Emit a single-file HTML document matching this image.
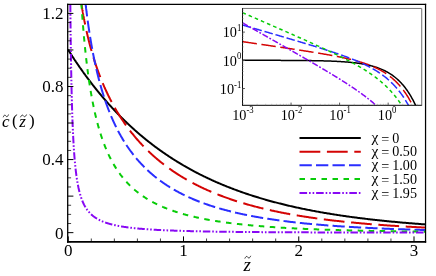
<!DOCTYPE html>
<html><head><meta charset="utf-8"><style>
html,body{margin:0;padding:0;background:#fff;}
body{width:436px;height:276px;overflow:hidden;position:relative;font-family:"Liberation Serif",serif;}
</style></head><body>
<svg width="436" height="276" viewBox="0 0 436 276" style="position:absolute;left:0;top:0;will-change:transform;opacity:0.999">
<defs><clipPath id="cm"><rect x="67.70" y="4.40" width="357.85" height="237.40"/></clipPath>
<clipPath id="ci"><rect x="242.50" y="8.45" width="178.90" height="96.75"/></clipPath></defs>
<rect width="100%" height="100%" fill="#fff"/>
<g clip-path="url(#cm)" fill="none" stroke-width="2.00">
<path d="M68.25,49.95 L68.25,49.95 L68.25,49.95 L68.25,49.95 L68.25,49.95 L68.25,49.95 L68.25,49.95 L68.25,49.96 L68.25,49.96 L68.26,49.96 L68.26,49.96 L68.26,49.97 L68.26,49.97 L68.27,49.98 L68.27,49.98 L68.27,49.99 L68.28,49.99 L68.28,50.00 L68.29,50.01 L68.29,50.02 L68.30,50.03 L68.31,50.04 L68.31,50.05 L68.32,50.06 L68.33,50.07 L68.34,50.09 L68.34,50.10 L68.35,50.12 L68.36,50.13 L68.37,50.15 L68.39,50.17 L68.40,50.18 L68.41,50.20 L68.42,50.22 L68.44,50.24 L68.45,50.27 L68.46,50.29 L68.48,50.31 L68.50,50.34 L68.51,50.36 L68.53,50.39 L68.55,50.42 L68.57,50.45 L68.58,50.48 L68.60,50.51 L68.62,50.54 L68.65,50.58 L68.67,50.61 L68.69,50.65 L68.71,50.68 L68.74,50.72 L68.76,50.76 L68.79,50.80 L68.81,50.84 L68.84,50.88 L68.87,50.93 L68.90,50.97 L68.93,51.02 L68.96,51.07 L68.99,51.11 L69.02,51.16 L69.05,51.22 L69.08,51.27 L69.12,51.32 L69.15,51.38 L69.19,51.43 L69.23,51.49 L69.26,51.55 L69.30,51.61 L69.34,51.67 L69.38,51.73 L69.42,51.80 L69.46,51.86 L69.50,51.93 L69.55,52.00 L69.59,52.07 L69.64,52.14 L69.68,52.21 L69.73,52.28 L69.78,52.36 L69.83,52.43 L69.88,52.51 L69.93,52.59 L69.98,52.67 L70.03,52.75 L70.09,52.84 L70.14,52.92 L70.20,53.01 L70.25,53.10 L70.31,53.19 L70.37,53.28 L70.43,53.37 L70.49,53.46 L70.55,53.56 L70.61,53.65 L70.67,53.75 L70.74,53.85 L70.80,53.95 L70.87,54.06 L70.94,54.16 L71.01,54.27 L71.08,54.37 L71.15,54.48 L71.22,54.59 L71.29,54.71 L71.36,54.82 L71.44,54.93 L71.51,55.05 L71.59,55.17 L71.67,55.29 L71.75,55.41 L71.83,55.53 L71.91,55.66 L71.99,55.78 L72.07,55.91 L72.16,56.04 L72.24,56.17 L72.33,56.31 L72.42,56.44 L72.51,56.58 L72.60,56.71 L72.69,56.85 L72.78,56.99 L72.87,57.14 L72.97,57.28 L73.06,57.42 L73.16,57.57 L73.26,57.72 L73.36,57.87 L73.46,58.02 L73.56,58.18 L73.66,58.33 L73.77,58.49 L73.87,58.65 L73.98,58.81 L74.09,58.97 L74.19,59.13 L74.30,59.30 L74.42,59.47 L74.53,59.64 L74.64,59.81 L74.76,59.98 L74.87,60.15 L74.99,60.33 L75.11,60.50 L75.23,60.68 L75.35,60.86 L75.47,61.04 L75.59,61.23 L75.72,61.41 L75.84,61.60 L75.97,61.79 L76.10,61.98 L76.23,62.17 L76.36,62.37 L76.49,62.56 L76.63,62.76 L76.76,62.96 L76.90,63.16 L77.04,63.36 L77.17,63.56 L77.31,63.77 L77.46,63.98 L77.60,64.18 L77.74,64.39 L77.89,64.61 L78.03,64.82 L78.18,65.04 L78.33,65.25 L78.48,65.47 L78.63,65.69 L78.79,65.91 L78.94,66.14 L79.10,66.36 L79.26,66.59 L79.41,66.82 L79.58,67.05 L79.74,67.28 L79.90,67.51 L80.06,67.75 L80.23,67.99 L80.40,68.23 L80.57,68.47 L80.73,68.71 L80.91,68.95 L81.08,69.20 L81.25,69.44 L81.43,69.69 L81.61,69.94 L81.78,70.19 L81.96,70.45 L82.14,70.70 L82.33,70.96 L82.51,71.21 L82.70,71.47 L82.88,71.74 L83.07,72.00 L83.26,72.26 L83.45,72.53 L83.65,72.80 L83.84,73.06 L84.04,73.34 L84.23,73.61 L84.43,73.88 L84.63,74.16 L84.83,74.43 L85.04,74.71 L85.24,74.99 L85.45,75.27 L85.65,75.56 L85.86,75.84 L86.07,76.13 L86.28,76.41 L86.50,76.70 L86.71,76.99 L86.93,77.29 L87.15,77.58 L87.37,77.87 L87.59,78.17 L87.81,78.47 L88.03,78.77 L88.26,79.07 L88.49,79.37 L88.72,79.68 L88.95,79.98 L89.18,80.29 L89.41,80.60 L89.65,80.91 L89.88,81.22 L90.12,81.53 L90.36,81.84 L90.60,82.16 L90.84,82.47 L91.09,82.79 L91.33,83.11 L91.58,83.43 L91.83,83.75 L92.08,84.08 L92.33,84.40 L92.59,84.73 L92.84,85.06 L93.10,85.38 L93.36,85.71 L93.62,86.05 L93.88,86.38 L94.14,86.71 L94.41,87.05 L94.67,87.38 L94.94,87.72 L95.21,88.06 L95.48,88.40 L95.76,88.74 L96.03,89.08 L96.31,89.43 L96.59,89.77 L96.87,90.12 L97.15,90.47 L97.43,90.82 L97.72,91.17 L98.00,91.52 L98.29,91.87 L98.58,92.22 L98.87,92.58 L99.16,92.93 L99.46,93.29 L99.75,93.65 L100.05,94.01 L100.35,94.37 L100.65,94.73 L100.96,95.09 L101.26,95.45 L101.57,95.82 L101.88,96.18 L102.19,96.55 L102.50,96.92 L102.81,97.29 L103.13,97.66 L103.44,98.03 L103.76,98.40 L104.08,98.77 L104.40,99.14 L104.73,99.52 L105.05,99.89 L105.38,100.27 L105.71,100.65 L106.04,101.03 L106.37,101.40 L106.71,101.78 L107.04,102.17 L107.38,102.55 L107.72,102.93 L108.06,103.31 L108.40,103.70 L108.75,104.08 L109.09,104.47 L109.44,104.85 L109.79,105.24 L110.14,105.63 L110.50,106.02 L110.85,106.41 L111.21,106.80 L111.57,107.19 L111.93,107.58 L112.29,107.98 L112.66,108.37 L113.02,108.76 L113.39,109.16 L113.76,109.55 L114.13,109.95 L114.50,110.35 L114.88,110.74 L115.26,111.14 L115.64,111.54 L116.02,111.94 L116.40,112.34 L116.78,112.74 L117.17,113.14 L117.56,113.54 L117.95,113.95 L118.34,114.35 L118.73,114.75 L119.13,115.15 L119.52,115.56 L119.92,115.96 L120.32,116.37 L120.73,116.77 L121.13,117.18 L121.54,117.59 L121.95,117.99 L122.36,118.40 L122.77,118.81 L123.18,119.22 L123.60,119.63 L124.02,120.03 L124.44,120.44 L124.86,120.85 L125.28,121.26 L125.71,121.67 L126.13,122.08 L126.56,122.50 L126.99,122.91 L127.43,123.32 L127.86,123.73 L128.30,124.14 L128.74,124.55 L129.18,124.97 L129.62,125.38 L130.06,125.79 L130.51,126.20 L130.96,126.62 L131.41,127.03 L131.86,127.44 L132.31,127.86 L132.77,128.27 L133.23,128.69 L133.69,129.10 L134.15,129.51 L134.61,129.93 L135.08,130.34 L135.55,130.76 L136.02,131.17 L136.49,131.59 L136.96,132.00 L137.44,132.41 L137.91,132.83 L138.39,133.24 L138.88,133.66 L139.36,134.07 L139.84,134.49 L140.33,134.90 L140.82,135.31 L141.31,135.73 L141.81,136.14 L142.30,136.56 L142.80,136.97 L143.30,137.38 L143.80,137.80 L144.30,138.21 L144.81,138.62 L145.31,139.04 L145.82,139.45 L146.34,139.86 L146.85,140.27 L147.36,140.69 L147.88,141.10 L148.40,141.51 L148.92,141.92 L149.45,142.33 L149.97,142.74 L150.50,143.15 L151.03,143.56 L151.56,143.97 L152.09,144.38 L152.63,144.79 L153.17,145.20 L153.71,145.61 L154.25,146.02 L154.79,146.43 L155.34,146.84 L155.89,147.24 L156.44,147.65 L156.99,148.06 L157.54,148.46 L158.10,148.87 L158.66,149.27 L159.22,149.68 L159.78,150.08 L160.35,150.48 L160.91,150.89 L161.48,151.29 L162.05,151.69 L162.63,152.09 L163.20,152.49 L163.78,152.89 L164.36,153.29 L164.94,153.69 L165.52,154.09 L166.11,154.49 L166.70,154.89 L167.29,155.29 L167.88,155.68 L168.47,156.08 L169.07,156.47 L169.67,156.87 L170.27,157.26 L170.87,157.65 L171.47,158.05 L172.08,158.44 L172.69,158.83 L173.30,159.22 L173.91,159.61 L174.53,160.00 L175.15,160.39 L175.77,160.77 L176.39,161.16 L177.01,161.55 L177.64,161.93 L178.27,162.32 L178.90,162.70 L179.53,163.08 L180.17,163.47 L180.80,163.85 L181.44,164.23 L182.08,164.61 L182.73,164.99 L183.37,165.36 L184.02,165.74 L184.67,166.12 L185.32,166.49 L185.98,166.87 L186.63,167.24 L187.29,167.61 L187.95,167.99 L188.62,168.36 L189.28,168.73 L189.95,169.10 L190.62,169.46 L191.29,169.83 L191.96,170.20 L192.64,170.56 L193.32,170.93 L194.00,171.29 L194.68,171.65 L195.37,172.02 L196.06,172.38 L196.75,172.74 L197.44,173.09 L198.13,173.45 L198.83,173.81 L199.53,174.16 L200.23,174.52 L200.93,174.87 L201.64,175.23 L202.34,175.58 L203.05,175.93 L203.77,176.28 L204.48,176.62 L205.20,176.97 L205.92,177.32 L206.64,177.66 L207.36,178.01 L208.09,178.35 L208.81,178.69 L209.54,179.03 L210.28,179.37 L211.01,179.71 L211.75,180.05 L212.49,180.39 L213.23,180.72 L213.97,181.05 L214.72,181.39 L215.47,181.72 L216.22,182.05 L216.97,182.38 L217.73,182.71 L218.48,183.04 L219.24,183.36 L220.01,183.69 L220.77,184.01 L221.54,184.33 L222.31,184.65 L223.08,184.97 L223.85,185.29 L224.63,185.61 L225.41,185.93 L226.19,186.24 L226.97,186.56 L227.76,186.87 L228.54,187.18 L229.33,187.49 L230.13,187.80 L230.92,188.11 L231.72,188.42 L232.52,188.72 L233.32,189.03 L234.12,189.33 L234.93,189.63 L235.74,189.93 L236.55,190.23 L237.36,190.53 L238.18,190.83 L239.00,191.12 L239.82,191.42 L240.64,191.71 L241.47,192.00 L242.29,192.30 L243.12,192.58 L243.95,192.87 L244.79,193.16 L245.63,193.45 L246.47,193.73 L247.31,194.01 L248.15,194.30 L249.00,194.58 L249.85,194.86 L250.70,195.13 L251.55,195.41 L252.41,195.69 L253.27,195.96 L254.13,196.23 L254.99,196.51 L255.86,196.78 L256.73,197.05 L257.60,197.31 L258.47,197.58 L259.34,197.85 L260.22,198.11 L261.10,198.37 L261.99,198.63 L262.87,198.89 L263.76,199.15 L264.65,199.41 L265.54,199.67 L266.43,199.92 L267.33,200.18 L268.23,200.43 L269.13,200.68 L270.04,200.93 L270.94,201.18 L271.85,201.43 L272.77,201.67 L273.68,201.92 L274.60,202.16 L275.52,202.40 L276.44,202.64 L277.36,202.88 L278.29,203.12 L279.22,203.36 L280.15,203.59 L281.08,203.83 L282.02,204.06 L282.96,204.29 L283.90,204.52 L284.84,204.75 L285.79,204.98 L286.74,205.21 L287.69,205.43 L288.64,205.66 L289.60,205.88 L290.56,206.10 L291.52,206.32 L292.48,206.54 L293.45,206.76 L294.42,206.98 L295.39,207.19 L296.36,207.41 L297.34,207.62 L298.32,207.83 L299.30,208.04 L300.28,208.25 L301.27,208.46 L302.26,208.67 L303.25,208.87 L304.24,209.07 L305.24,209.28 L306.24,209.48 L307.24,209.68 L308.24,209.88 L309.25,210.08 L310.26,210.27 L311.27,210.47 L312.28,210.66 L313.30,210.86 L314.32,211.05 L315.34,211.24 L316.36,211.43 L317.39,211.62 L318.42,211.80 L319.45,211.99 L320.48,212.17 L321.52,212.36 L322.56,212.54 L323.60,212.72 L324.64,212.90 L325.69,213.08 L326.74,213.26 L327.79,213.43 L328.85,213.61 L329.90,213.78 L330.96,213.95 L332.03,214.13 L333.09,214.30 L334.16,214.46 L335.23,214.63 L336.30,214.80 L337.38,214.97 L338.45,215.13 L339.54,215.29 L340.62,215.46 L341.70,215.62 L342.79,215.78 L343.88,215.94 L344.98,216.09 L346.07,216.25 L347.17,216.41 L348.27,216.56 L349.38,216.71 L350.48,216.87 L351.59,217.02 L352.70,217.17 L353.82,217.32 L354.93,217.46 L356.05,217.61 L357.17,217.76 L358.30,217.90 L359.43,218.04 L360.56,218.19 L361.69,218.33 L362.82,218.47 L363.96,218.61 L365.10,218.75 L366.25,218.88 L367.39,219.02 L368.54,219.16 L369.69,219.29 L370.84,219.42 L372.00,219.55 L373.16,219.69 L374.32,219.82 L375.49,219.94 L376.65,220.07 L377.82,220.20 L378.99,220.33 L380.17,220.45 L381.35,220.57 L382.53,220.70 L383.71,220.82 L384.89,220.94 L386.08,221.06 L387.27,221.18 L388.47,221.30 L389.66,221.42 L390.86,221.53 L392.06,221.65 L393.27,221.76 L394.47,221.87 L395.68,221.99 L396.90,222.10 L398.11,222.21 L399.33,222.32 L400.55,222.43 L401.77,222.54 L403.00,222.64 L404.23,222.75 L405.46,222.85 L406.69,222.96 L407.93,223.06 L409.17,223.16 L410.41,223.27 L411.65,223.37 L412.90,223.47 L414.15,223.57 L415.40,223.66 L416.66,223.76 L417.92,223.86 L419.18,223.95 L420.44,224.05 L421.71,224.14 L422.98,224.24 L424.25,224.33 L425.53,224.42" stroke="#000000"/>
<path d="M81.50,4.40 L81.50,4.40 L81.50,4.40 L81.50,4.40 L81.50,4.41 L81.50,4.41 L81.50,4.41 L81.50,4.42 L81.50,4.43 L81.50,4.44 L81.51,4.45 L81.51,4.47 L81.51,4.48 L81.51,4.50 L81.52,4.52 L81.52,4.55 L81.52,4.57 L81.53,4.60 L81.53,4.63 L81.54,4.66 L81.55,4.70 L81.55,4.74 L81.56,4.78 L81.56,4.82 L81.57,4.87 L81.58,4.92 L81.59,4.97 L81.60,5.03 L81.61,5.09 L81.62,5.15 L81.63,5.22 L81.64,5.29 L81.65,5.36 L81.66,5.44 L81.68,5.52 L81.69,5.60 L81.70,5.69 L81.72,5.78 L81.73,5.87 L81.75,5.97 L81.77,6.07 L81.78,6.18 L81.80,6.28 L81.82,6.40 L81.84,6.51 L81.86,6.63 L81.88,6.76 L81.90,6.89 L81.92,7.02 L81.94,7.16 L81.97,7.30 L81.99,7.44 L82.01,7.59 L82.04,7.74 L82.07,7.90 L82.09,8.06 L82.12,8.22 L82.15,8.39 L82.18,8.56 L82.21,8.74 L82.24,8.92 L82.27,9.11 L82.30,9.30 L82.33,9.49 L82.37,9.69 L82.40,9.89 L82.44,10.10 L82.47,10.31 L82.51,10.52 L82.55,10.74 L82.59,10.96 L82.62,11.19 L82.66,11.42 L82.71,11.66 L82.75,11.90 L82.79,12.14 L82.83,12.39 L82.88,12.64 L82.92,12.90 L82.97,13.16 L83.02,13.42 L83.06,13.69 L83.11,13.96 L83.16,14.24 L83.21,14.52 L83.27,14.80 L83.32,15.09 L83.37,15.39 L83.43,15.68 L83.48,15.98 L83.54,16.29 L83.59,16.60 L83.65,16.91 L83.71,17.23 L83.77,17.55 L83.83,17.87 L83.89,18.20 L83.96,18.53 L84.02,18.87 L84.09,19.21 L84.15,19.55 L84.22,19.89 L84.29,20.25 L84.35,20.60 L84.42,20.96 L84.50,21.32 L84.57,21.68 L84.64,22.05 L84.71,22.42 L84.79,22.80 L84.87,23.18 L84.94,23.56 L85.02,23.94 L85.10,24.33 L85.18,24.73 L85.26,25.12 L85.34,25.52 L85.43,25.92 L85.51,26.33 L85.60,26.73 L85.68,27.14 L85.77,27.56 L85.86,27.98 L85.95,28.40 L86.04,28.82 L86.13,29.24 L86.23,29.67 L86.32,30.10 L86.42,30.54 L86.51,30.98 L86.61,31.42 L86.71,31.86 L86.81,32.30 L86.91,32.75 L87.01,33.20 L87.12,33.65 L87.22,34.11 L87.33,34.57 L87.43,35.03 L87.54,35.49 L87.65,35.95 L87.76,36.42 L87.87,36.89 L87.99,37.36 L88.10,37.84 L88.22,38.31 L88.33,38.79 L88.45,39.27 L88.57,39.75 L88.69,40.24 L88.81,40.73 L88.93,41.21 L89.06,41.70 L89.18,42.20 L89.31,42.69 L89.43,43.19 L89.56,43.68 L89.69,44.18 L89.82,44.68 L89.96,45.19 L90.09,45.69 L90.23,46.20 L90.36,46.70 L90.50,47.21 L90.64,47.72 L90.78,48.24 L90.92,48.75 L91.06,49.26 L91.21,49.78 L91.35,50.30 L91.50,50.82 L91.64,51.34 L91.79,51.86 L91.94,52.38 L92.10,52.90 L92.25,53.43 L92.40,53.96 L92.56,54.48 L92.72,55.01 L92.87,55.54 L93.03,56.07 L93.19,56.60 L93.36,57.13 L93.52,57.67 L93.68,58.20 L93.85,58.74 L94.02,59.27 L94.19,59.81 L94.36,60.35 L94.53,60.89 L94.70,61.42 L94.88,61.96 L95.05,62.50 L95.23,63.05 L95.41,63.59 L95.59,64.13 L95.77,64.67 L95.95,65.22 L96.14,65.76 L96.32,66.30 L96.51,66.85 L96.70,67.39 L96.89,67.94 L97.08,68.49 L97.27,69.03 L97.46,69.58 L97.66,70.13 L97.86,70.68 L98.06,71.22 L98.26,71.77 L98.46,72.32 L98.66,72.87 L98.86,73.42 L99.07,73.97 L99.28,74.52 L99.48,75.07 L99.69,75.62 L99.91,76.17 L100.12,76.72 L100.33,77.27 L100.55,77.82 L100.77,78.37 L100.98,78.92 L101.20,79.47 L101.43,80.02 L101.65,80.57 L101.87,81.12 L102.10,81.67 L102.33,82.22 L102.56,82.77 L102.79,83.32 L103.02,83.87 L103.25,84.42 L103.49,84.97 L103.72,85.52 L103.96,86.07 L104.20,86.62 L104.44,87.17 L104.69,87.71 L104.93,88.26 L105.18,88.81 L105.42,89.36 L105.67,89.91 L105.92,90.45 L106.18,91.00 L106.43,91.55 L106.69,92.09 L106.94,92.64 L107.20,93.19 L107.46,93.73 L107.72,94.28 L107.98,94.82 L108.25,95.36 L108.52,95.91 L108.78,96.45 L109.05,96.99 L109.32,97.54 L109.60,98.08 L109.87,98.62 L110.15,99.16 L110.42,99.70 L110.70,100.24 L110.98,100.78 L111.26,101.32 L111.55,101.86 L111.83,102.39 L112.12,102.93 L112.41,103.47 L112.70,104.00 L112.99,104.54 L113.29,105.07 L113.58,105.61 L113.88,106.14 L114.18,106.67 L114.48,107.20 L114.78,107.74 L115.08,108.27 L115.39,108.80 L115.69,109.33 L116.00,109.85 L116.31,110.38 L116.62,110.91 L116.94,111.44 L117.25,111.96 L117.57,112.49 L117.89,113.01 L118.21,113.53 L118.53,114.06 L118.85,114.58 L119.18,115.10 L119.50,115.62 L119.83,116.14 L120.16,116.66 L120.49,117.17 L120.83,117.69 L121.16,118.21 L121.50,118.72 L121.84,119.24 L122.18,119.75 L122.52,120.26 L122.86,120.77 L123.21,121.28 L123.56,121.79 L123.91,122.30 L124.26,122.81 L124.61,123.32 L124.96,123.82 L125.32,124.33 L125.68,124.83 L126.04,125.34 L126.40,125.84 L126.76,126.34 L127.13,126.84 L127.49,127.34 L127.86,127.84 L128.23,128.34 L128.60,128.83 L128.98,129.33 L129.35,129.82 L129.73,130.32 L130.11,130.81 L130.49,131.30 L130.87,131.79 L131.25,132.28 L131.64,132.77 L132.03,133.26 L132.42,133.74 L132.81,134.23 L133.20,134.71 L133.60,135.19 L133.99,135.68 L134.39,136.16 L134.79,136.64 L135.20,137.11 L135.60,137.59 L136.01,138.07 L136.41,138.54 L136.82,139.02 L137.23,139.49 L137.65,139.96 L138.06,140.43 L138.48,140.90 L138.90,141.37 L139.32,141.84 L139.74,142.30 L140.16,142.77 L140.59,143.23 L141.02,143.70 L141.45,144.16 L141.88,144.62 L142.31,145.08 L142.75,145.53 L143.19,145.99 L143.63,146.45 L144.07,146.90 L144.51,147.35 L144.95,147.81 L145.40,148.26 L145.85,148.71 L146.30,149.15 L146.75,149.60 L147.21,150.05 L147.66,150.49 L148.12,150.94 L148.58,151.38 L149.04,151.82 L149.50,152.26 L149.97,152.70 L150.44,153.13 L150.91,153.57 L151.38,154.00 L151.85,154.44 L152.33,154.87 L152.80,155.30 L153.28,155.73 L153.76,156.16 L154.24,156.58 L154.73,157.01 L155.22,157.43 L155.70,157.86 L156.20,158.28 L156.69,158.70 L157.18,159.12 L157.68,159.54 L158.18,159.95 L158.68,160.37 L159.18,160.78 L159.68,161.19 L160.19,161.60 L160.70,162.01 L161.21,162.42 L161.72,162.83 L162.23,163.24 L162.75,163.64 L163.27,164.04 L163.79,164.45 L164.31,164.85 L164.83,165.24 L165.36,165.64 L165.89,166.04 L166.42,166.43 L166.95,166.83 L167.48,167.22 L168.02,167.61 L168.55,168.00 L169.09,168.39 L169.64,168.78 L170.18,169.16 L170.72,169.55 L171.27,169.93 L171.82,170.31 L172.37,170.69 L172.93,171.07 L173.48,171.45 L174.04,171.82 L174.60,172.20 L175.16,172.57 L175.73,172.94 L176.29,173.31 L176.86,173.68 L177.43,174.05 L178.00,174.42 L178.58,174.78 L179.15,175.14 L179.73,175.51 L180.31,175.87 L180.89,176.23 L181.48,176.58 L182.06,176.94 L182.65,177.30 L183.24,177.65 L183.84,178.00 L184.43,178.35 L185.03,178.70 L185.63,179.05 L186.23,179.40 L186.83,179.74 L187.44,180.09 L188.04,180.43 L188.65,180.77 L189.26,181.11 L189.88,181.45 L190.49,181.79 L191.11,182.12 L191.73,182.45 L192.35,182.79 L192.97,183.12 L193.60,183.45 L194.23,183.78 L194.86,184.10 L195.49,184.43 L196.13,184.75 L196.76,185.08 L197.40,185.40 L198.04,185.72 L198.68,186.04 L199.33,186.35 L199.98,186.67 L200.62,186.98 L201.28,187.30 L201.93,187.61 L202.59,187.92 L203.24,188.23 L203.90,188.54 L204.56,188.84 L205.23,189.15 L205.90,189.45 L206.56,189.75 L207.23,190.05 L207.91,190.35 L208.58,190.65 L209.26,190.94 L209.94,191.24 L210.62,191.53 L211.30,191.83 L211.99,192.12 L212.68,192.41 L213.37,192.69 L214.06,192.98 L214.75,193.26 L215.45,193.55 L216.15,193.83 L216.85,194.11 L217.55,194.39 L218.26,194.67 L218.97,194.95 L219.68,195.22 L220.39,195.50 L221.10,195.77 L221.82,196.04 L222.54,196.31 L223.26,196.58 L223.98,196.85 L224.70,197.11 L225.43,197.38 L226.16,197.64 L226.89,197.90 L227.63,198.16 L228.36,198.42 L229.10,198.68 L229.84,198.93 L230.59,199.19 L231.33,199.44 L232.08,199.70 L232.83,199.95 L233.58,200.20 L234.33,200.44 L235.09,200.69 L235.85,200.94 L236.61,201.18 L237.37,201.42 L238.14,201.67 L238.90,201.91 L239.67,202.14 L240.45,202.38 L241.22,202.62 L242.00,202.85 L242.78,203.09 L243.56,203.32 L244.34,203.55 L245.13,203.78 L245.91,204.01 L246.70,204.24 L247.50,204.46 L248.29,204.69 L249.09,204.91 L249.89,205.13 L250.69,205.35 L251.49,205.57 L252.30,205.79 L253.11,206.01 L253.92,206.22 L254.73,206.44 L255.54,206.65 L256.36,206.86 L257.18,207.07 L258.00,207.28 L258.83,207.49 L259.65,207.70 L260.48,207.90 L261.32,208.11 L262.15,208.31 L262.98,208.51 L263.82,208.71 L264.66,208.91 L265.51,209.11 L266.35,209.31 L267.20,209.50 L268.05,209.70 L268.90,209.89 L269.76,210.08 L270.61,210.27 L271.47,210.46 L272.33,210.65 L273.20,210.84 L274.06,211.03 L274.93,211.21 L275.80,211.39 L276.68,211.58 L277.55,211.76 L278.43,211.94 L279.31,212.12 L280.19,212.30 L281.08,212.47 L281.97,212.65 L282.86,212.82 L283.75,213.00 L284.64,213.17 L285.54,213.34 L286.44,213.51 L287.34,213.68 L288.24,213.85 L289.15,214.01 L290.06,214.18 L290.97,214.34 L291.88,214.50 L292.80,214.67 L293.72,214.83 L294.64,214.99 L295.56,215.15 L296.49,215.30 L297.42,215.46 L298.35,215.62 L299.28,215.77 L300.21,215.92 L301.15,216.08 L302.09,216.23 L303.03,216.38 L303.98,216.53 L304.92,216.67 L305.87,216.82 L306.83,216.97 L307.78,217.11 L308.74,217.26 L309.70,217.40 L310.66,217.54 L311.62,217.68 L312.59,217.82 L313.56,217.96 L314.53,218.10 L315.50,218.23 L316.48,218.37 L317.46,218.50 L318.44,218.64 L319.42,218.77 L320.41,218.90 L321.40,219.03 L322.39,219.16 L323.38,219.29 L324.38,219.42 L325.38,219.55 L326.38,219.67 L327.38,219.80 L328.39,219.92 L329.39,220.04 L330.40,220.17 L331.42,220.29 L332.43,220.41 L333.45,220.53 L334.47,220.65 L335.49,220.76 L336.52,220.88 L337.55,220.99 L338.58,221.11 L339.61,221.22 L340.65,221.34 L341.68,221.45 L342.72,221.56 L343.77,221.67 L344.81,221.78 L345.86,221.89 L346.91,222.00 L347.96,222.10 L349.02,222.21 L350.08,222.31 L351.14,222.42 L352.20,222.52 L353.26,222.62 L354.33,222.73 L355.40,222.83 L356.48,222.93 L357.55,223.03 L358.63,223.12 L359.71,223.22 L360.79,223.32 L361.88,223.41 L362.97,223.51 L364.06,223.60 L365.15,223.70 L366.24,223.79 L367.34,223.88 L368.44,223.97 L369.55,224.06 L370.65,224.15 L371.76,224.24 L372.87,224.33 L373.99,224.42 L375.10,224.51 L376.22,224.59 L377.34,224.68 L378.46,224.76 L379.59,224.85 L380.72,224.93 L381.85,225.01 L382.98,225.09 L384.12,225.17 L385.26,225.25 L386.40,225.33 L387.55,225.41 L388.69,225.49 L389.84,225.57 L390.99,225.64 L392.15,225.72 L393.30,225.80 L394.46,225.87 L395.63,225.94 L396.79,226.02 L397.96,226.09 L399.13,226.16 L400.30,226.23 L401.48,226.30 L402.65,226.37 L403.83,226.44 L405.02,226.51 L406.20,226.58 L407.39,226.65 L408.58,226.71 L409.77,226.78 L410.97,226.85 L412.17,226.91 L413.37,226.98 L414.57,227.04 L415.78,227.10 L416.99,227.17 L418.20,227.23 L419.41,227.29 L420.63,227.35 L421.85,227.41 L423.07,227.47 L424.30,227.53 L425.53,227.59" stroke="#d40404" stroke-dasharray="20.8 6.6" stroke-dashoffset="0.37"/>
<path d="M85.63,4.40 L85.63,4.40 L85.63,4.40 L85.63,4.40 L85.63,4.41 L85.63,4.41 L85.64,4.42 L85.64,4.43 L85.64,4.44 L85.64,4.45 L85.64,4.47 L85.64,4.49 L85.65,4.51 L85.65,4.54 L85.65,4.56 L85.66,4.60 L85.66,4.63 L85.66,4.67 L85.67,4.71 L85.67,4.75 L85.68,4.80 L85.69,4.85 L85.69,4.91 L85.70,4.97 L85.71,5.03 L85.72,5.10 L85.72,5.17 L85.73,5.25 L85.74,5.33 L85.75,5.41 L85.76,5.50 L85.77,5.59 L85.79,5.69 L85.80,5.79 L85.81,5.90 L85.82,6.01 L85.84,6.13 L85.85,6.25 L85.87,6.38 L85.88,6.51 L85.90,6.64 L85.92,6.78 L85.93,6.93 L85.95,7.08 L85.97,7.24 L85.99,7.40 L86.01,7.57 L86.03,7.74 L86.05,7.92 L86.07,8.10 L86.10,8.29 L86.12,8.48 L86.14,8.68 L86.17,8.88 L86.20,9.09 L86.22,9.31 L86.25,9.53 L86.28,9.76 L86.31,9.99 L86.33,10.22 L86.36,10.47 L86.40,10.72 L86.43,10.97 L86.46,11.23 L86.49,11.49 L86.53,11.76 L86.56,12.04 L86.60,12.32 L86.63,12.61 L86.67,12.90 L86.71,13.20 L86.75,13.51 L86.79,13.82 L86.83,14.13 L86.87,14.45 L86.91,14.78 L86.95,15.11 L87.00,15.45 L87.04,15.79 L87.09,16.14 L87.13,16.49 L87.18,16.85 L87.23,17.21 L87.28,17.58 L87.33,17.96 L87.38,18.34 L87.43,18.73 L87.48,19.12 L87.54,19.51 L87.59,19.92 L87.65,20.32 L87.70,20.73 L87.76,21.15 L87.82,21.57 L87.88,22.00 L87.94,22.43 L88.00,22.87 L88.06,23.31 L88.13,23.76 L88.19,24.21 L88.26,24.67 L88.32,25.13 L88.39,25.59 L88.46,26.07 L88.53,26.54 L88.60,27.02 L88.67,27.51 L88.74,27.99 L88.81,28.49 L88.89,28.99 L88.96,29.49 L89.04,29.99 L89.11,30.50 L89.19,31.02 L89.27,31.54 L89.35,32.06 L89.43,32.59 L89.52,33.12 L89.60,33.65 L89.68,34.19 L89.77,34.73 L89.86,35.28 L89.94,35.83 L90.03,36.38 L90.12,36.94 L90.21,37.50 L90.31,38.06 L90.40,38.63 L90.49,39.20 L90.59,39.77 L90.69,40.35 L90.78,40.93 L90.88,41.51 L90.98,42.10 L91.08,42.69 L91.19,43.28 L91.29,43.88 L91.39,44.47 L91.50,45.07 L91.61,45.68 L91.71,46.28 L91.82,46.89 L91.93,47.50 L92.04,48.11 L92.16,48.73 L92.27,49.35 L92.39,49.97 L92.50,50.59 L92.62,51.21 L92.74,51.84 L92.86,52.47 L92.98,53.10 L93.10,53.73 L93.22,54.36 L93.35,55.00 L93.48,55.64 L93.60,56.27 L93.73,56.91 L93.86,57.56 L93.99,58.20 L94.12,58.85 L94.26,59.49 L94.39,60.14 L94.53,60.79 L94.66,61.44 L94.80,62.09 L94.94,62.74 L95.08,63.39 L95.22,64.05 L95.37,64.70 L95.51,65.36 L95.66,66.02 L95.81,66.68 L95.95,67.33 L96.10,67.99 L96.26,68.65 L96.41,69.31 L96.56,69.97 L96.72,70.64 L96.87,71.30 L97.03,71.96 L97.19,72.62 L97.35,73.29 L97.51,73.95 L97.67,74.61 L97.84,75.28 L98.00,75.94 L98.17,76.61 L98.34,77.27 L98.51,77.93 L98.68,78.60 L98.85,79.26 L99.03,79.92 L99.20,80.59 L99.38,81.25 L99.55,81.92 L99.73,82.58 L99.91,83.24 L100.10,83.90 L100.28,84.57 L100.46,85.23 L100.65,85.89 L100.84,86.55 L101.03,87.21 L101.22,87.87 L101.41,88.53 L101.60,89.19 L101.80,89.84 L101.99,90.50 L102.19,91.16 L102.39,91.81 L102.59,92.47 L102.79,93.12 L102.99,93.77 L103.20,94.43 L103.40,95.08 L103.61,95.73 L103.82,96.38 L104.03,97.03 L104.24,97.67 L104.45,98.32 L104.67,98.97 L104.89,99.61 L105.10,100.25 L105.32,100.90 L105.54,101.54 L105.76,102.18 L105.99,102.82 L106.21,103.45 L106.44,104.09 L106.67,104.72 L106.90,105.36 L107.13,105.99 L107.36,106.62 L107.59,107.25 L107.83,107.88 L108.07,108.51 L108.30,109.13 L108.54,109.76 L108.79,110.38 L109.03,111.00 L109.27,111.62 L109.52,112.24 L109.77,112.86 L110.02,113.47 L110.27,114.09 L110.52,114.70 L110.77,115.31 L111.03,115.92 L111.28,116.53 L111.54,117.13 L111.80,117.74 L112.06,118.34 L112.33,118.94 L112.59,119.54 L112.86,120.14 L113.12,120.74 L113.39,121.33 L113.66,121.92 L113.94,122.52 L114.21,123.10 L114.49,123.69 L114.76,124.28 L115.04,124.86 L115.32,125.45 L115.61,126.03 L115.89,126.61 L116.17,127.18 L116.46,127.76 L116.75,128.33 L117.04,128.90 L117.33,129.47 L117.62,130.04 L117.92,130.61 L118.21,131.17 L118.51,131.74 L118.81,132.30 L119.11,132.86 L119.42,133.41 L119.72,133.97 L120.03,134.52 L120.34,135.07 L120.65,135.62 L120.96,136.17 L121.27,136.72 L121.58,137.26 L121.90,137.80 L122.22,138.34 L122.54,138.88 L122.86,139.42 L123.18,139.95 L123.51,140.48 L123.83,141.01 L124.16,141.54 L124.49,142.07 L124.82,142.59 L125.15,143.12 L125.49,143.64 L125.83,144.16 L126.16,144.67 L126.50,145.19 L126.84,145.70 L127.19,146.21 L127.53,146.72 L127.88,147.23 L128.23,147.74 L128.58,148.24 L128.93,148.74 L129.28,149.24 L129.64,149.74 L129.99,150.23 L130.35,150.73 L130.71,151.22 L131.08,151.71 L131.44,152.20 L131.80,152.68 L132.17,153.17 L132.54,153.65 L132.91,154.13 L133.28,154.61 L133.66,155.08 L134.03,155.56 L134.41,156.03 L134.79,156.50 L135.17,156.97 L135.56,157.43 L135.94,157.90 L136.33,158.36 L136.72,158.82 L137.11,159.28 L137.50,159.73 L137.89,160.19 L138.29,160.64 L138.69,161.09 L139.09,161.54 L139.49,161.99 L139.89,162.43 L140.29,162.87 L140.70,163.31 L141.11,163.75 L141.52,164.19 L141.93,164.63 L142.34,165.06 L142.76,165.49 L143.18,165.92 L143.60,166.35 L144.02,166.77 L144.44,167.20 L144.86,167.62 L145.29,168.04 L145.72,168.46 L146.15,168.87 L146.58,169.29 L147.01,169.70 L147.45,170.11 L147.89,170.52 L148.33,170.92 L148.77,171.33 L149.21,171.73 L149.66,172.13 L150.10,172.53 L150.55,172.93 L151.00,173.32 L151.45,173.71 L151.91,174.11 L152.36,174.50 L152.82,174.88 L153.28,175.27 L153.74,175.65 L154.21,176.04 L154.67,176.42 L155.14,176.79 L155.61,177.17 L156.08,177.55 L156.55,177.92 L157.03,178.29 L157.51,178.66 L157.99,179.03 L158.47,179.39 L158.95,179.76 L159.43,180.12 L159.92,180.48 L160.41,180.84 L160.90,181.19 L161.39,181.55 L161.88,181.90 L162.38,182.25 L162.88,182.60 L163.38,182.95 L163.88,183.30 L164.38,183.64 L164.89,183.98 L165.40,184.32 L165.91,184.66 L166.42,185.00 L166.93,185.34 L167.45,185.67 L167.97,186.00 L168.49,186.33 L169.01,186.66 L169.53,186.99 L170.06,187.31 L170.58,187.63 L171.11,187.96 L171.64,188.28 L172.18,188.59 L172.71,188.91 L173.25,189.23 L173.79,189.54 L174.33,189.85 L174.87,190.16 L175.42,190.47 L175.96,190.78 L176.51,191.08 L177.06,191.38 L177.62,191.69 L178.17,191.99 L178.73,192.28 L179.29,192.58 L179.85,192.88 L180.41,193.17 L180.98,193.46 L181.55,193.75 L182.12,194.04 L182.69,194.33 L183.26,194.61 L183.84,194.89 L184.41,195.18 L184.99,195.46 L185.57,195.74 L186.16,196.01 L186.74,196.29 L187.33,196.56 L187.92,196.84 L188.51,197.11 L189.10,197.38 L189.70,197.65 L190.30,197.91 L190.90,198.18 L191.50,198.44 L192.10,198.70 L192.71,198.96 L193.32,199.22 L193.93,199.48 L194.54,199.73 L195.15,199.99 L195.77,200.24 L196.39,200.49 L197.01,200.74 L197.63,200.99 L198.26,201.24 L198.88,201.48 L199.51,201.73 L200.14,201.97 L200.78,202.21 L201.41,202.45 L202.05,202.69 L202.69,202.92 L203.33,203.16 L203.97,203.39 L204.62,203.63 L205.27,203.86 L205.92,204.09 L206.57,204.31 L207.22,204.54 L207.88,204.77 L208.54,204.99 L209.20,205.21 L209.86,205.43 L210.52,205.65 L211.19,205.87 L211.86,206.09 L212.53,206.31 L213.20,206.52 L213.88,206.73 L214.56,206.94 L215.24,207.15 L215.92,207.36 L216.60,207.57 L217.29,207.78 L217.98,207.98 L218.67,208.19 L219.36,208.39 L220.05,208.59 L220.75,208.79 L221.45,208.99 L222.15,209.18 L222.85,209.38 L223.56,209.58 L224.27,209.77 L224.98,209.96 L225.69,210.15 L226.40,210.34 L227.12,210.53 L227.84,210.72 L228.56,210.90 L229.28,211.09 L230.01,211.27 L230.73,211.45 L231.46,211.63 L232.20,211.81 L232.93,211.99 L233.67,212.17 L234.40,212.34 L235.14,212.52 L235.89,212.69 L236.63,212.87 L237.38,213.04 L238.13,213.21 L238.88,213.38 L239.63,213.54 L240.39,213.71 L241.15,213.88 L241.91,214.04 L242.67,214.20 L243.44,214.37 L244.20,214.53 L244.97,214.69 L245.74,214.84 L246.52,215.00 L247.29,215.16 L248.07,215.31 L248.85,215.47 L249.64,215.62 L250.42,215.77 L251.21,215.92 L252.00,216.07 L252.79,216.22 L253.58,216.37 L254.38,216.52 L255.18,216.66 L255.98,216.81 L256.78,216.95 L257.59,217.09 L258.40,217.24 L259.21,217.38 L260.02,217.52 L260.83,217.65 L261.65,217.79 L262.47,217.93 L263.29,218.06 L264.11,218.20 L264.94,218.33 L265.77,218.46 L266.60,218.59 L267.43,218.73 L268.27,218.85 L269.10,218.98 L269.94,219.11 L270.78,219.24 L271.63,219.36 L272.48,219.49 L273.32,219.61 L274.18,219.73 L275.03,219.86 L275.88,219.98 L276.74,220.10 L277.60,220.22 L278.47,220.33 L279.33,220.45 L280.20,220.57 L281.07,220.68 L281.94,220.80 L282.81,220.91 L283.69,221.02 L284.57,221.13 L285.45,221.25 L286.34,221.36 L287.22,221.46 L288.11,221.57 L289.00,221.68 L289.89,221.79 L290.79,221.89 L291.69,222.00 L292.59,222.10 L293.49,222.21 L294.40,222.31 L295.30,222.41 L296.21,222.51 L297.12,222.61 L298.04,222.71 L298.96,222.81 L299.87,222.91 L300.80,223.00 L301.72,223.10 L302.65,223.19 L303.57,223.29 L304.51,223.38 L305.44,223.47 L306.37,223.57 L307.31,223.66 L308.25,223.75 L309.20,223.84 L310.14,223.93 L311.09,224.02 L312.04,224.10 L312.99,224.19 L313.95,224.28 L314.90,224.36 L315.86,224.45 L316.83,224.53 L317.79,224.61 L318.76,224.70 L319.73,224.78 L320.70,224.86 L321.67,224.94 L322.65,225.02 L323.63,225.10 L324.61,225.18 L325.59,225.25 L326.58,225.33 L327.57,225.41 L328.56,225.48 L329.55,225.56 L330.55,225.63 L331.55,225.71 L332.55,225.78 L333.55,225.85 L334.56,225.92 L335.57,225.99 L336.58,226.07 L337.59,226.14 L338.60,226.20 L339.62,226.27 L340.64,226.34 L341.67,226.41 L342.69,226.48 L343.72,226.54 L344.75,226.61 L345.78,226.67 L346.82,226.74 L347.86,226.80 L348.90,226.86 L349.94,226.93 L350.98,226.99 L352.03,227.05 L353.08,227.11 L354.13,227.17 L355.19,227.23 L356.25,227.29 L357.31,227.35 L358.37,227.41 L359.43,227.47 L360.50,227.52 L361.57,227.58 L362.64,227.64 L363.72,227.69 L364.80,227.75 L365.88,227.80 L366.96,227.86 L368.04,227.91 L369.13,227.96 L370.22,228.01 L371.31,228.07 L372.41,228.12 L373.50,228.17 L374.60,228.22 L375.71,228.27 L376.81,228.32 L377.92,228.37 L379.03,228.42 L380.14,228.47 L381.26,228.51 L382.38,228.56 L383.50,228.61 L384.62,228.65 L385.74,228.70 L386.87,228.74 L388.00,228.79 L389.13,228.83 L390.27,228.88 L391.41,228.92 L392.55,228.96 L393.69,229.01 L394.84,229.05 L395.99,229.09 L397.14,229.13 L398.29,229.17 L399.45,229.22 L400.60,229.26 L401.76,229.30 L402.93,229.33 L404.09,229.37 L405.26,229.41 L406.43,229.45 L407.61,229.49 L408.78,229.53 L409.96,229.56 L411.14,229.60 L412.33,229.64 L413.52,229.67 L414.71,229.71 L415.90,229.74 L417.09,229.78 L418.29,229.81 L419.49,229.85 L420.69,229.88 L421.90,229.91 L423.10,229.95 L424.31,229.98 L425.53,230.01" stroke="#2a2eff" stroke-dasharray="12.24 4.175" stroke-dashoffset="0.05"/>
<path d="M81.45,4.40 L81.45,4.40 L81.45,4.40 L81.45,4.41 L81.45,4.41 L81.45,4.42 L81.45,4.43 L81.45,4.45 L81.46,4.47 L81.46,4.50 L81.46,4.53 L81.46,4.56 L81.46,4.60 L81.47,4.64 L81.47,4.69 L81.47,4.75 L81.48,4.81 L81.48,4.87 L81.49,4.94 L81.49,5.02 L81.50,5.11 L81.50,5.20 L81.51,5.30 L81.52,5.40 L81.53,5.51 L81.53,5.63 L81.54,5.76 L81.55,5.89 L81.56,6.03 L81.57,6.18 L81.58,6.34 L81.59,6.50 L81.60,6.68 L81.62,6.86 L81.63,7.04 L81.64,7.24 L81.66,7.44 L81.67,7.66 L81.69,7.88 L81.70,8.11 L81.72,8.35 L81.74,8.59 L81.75,8.85 L81.77,9.11 L81.79,9.38 L81.81,9.67 L81.83,9.96 L81.85,10.25 L81.87,10.56 L81.90,10.88 L81.92,11.20 L81.94,11.54 L81.97,11.88 L81.99,12.24 L82.02,12.60 L82.05,12.97 L82.07,13.35 L82.10,13.73 L82.13,14.13 L82.16,14.54 L82.19,14.95 L82.22,15.38 L82.25,15.81 L82.29,16.25 L82.32,16.70 L82.35,17.16 L82.39,17.63 L82.43,18.10 L82.46,18.59 L82.50,19.08 L82.54,19.59 L82.58,20.10 L82.62,20.62 L82.66,21.14 L82.70,21.68 L82.74,22.22 L82.79,22.77 L82.83,23.33 L82.88,23.90 L82.92,24.48 L82.97,25.06 L83.02,25.65 L83.07,26.25 L83.12,26.86 L83.17,27.47 L83.22,28.10 L83.27,28.72 L83.32,29.36 L83.38,30.00 L83.43,30.65 L83.49,31.31 L83.55,31.97 L83.60,32.64 L83.66,33.32 L83.72,34.00 L83.78,34.69 L83.85,35.39 L83.91,36.09 L83.97,36.80 L84.04,37.51 L84.10,38.23 L84.17,38.96 L84.24,39.69 L84.31,40.42 L84.38,41.16 L84.45,41.91 L84.52,42.66 L84.59,43.42 L84.67,44.18 L84.74,44.94 L84.82,45.71 L84.90,46.49 L84.97,47.27 L85.05,48.05 L85.13,48.83 L85.21,49.62 L85.30,50.42 L85.38,51.22 L85.46,52.02 L85.55,52.82 L85.64,53.63 L85.72,54.44 L85.81,55.25 L85.90,56.07 L85.99,56.89 L86.09,57.71 L86.18,58.53 L86.27,59.36 L86.37,60.19 L86.47,61.02 L86.56,61.85 L86.66,62.69 L86.76,63.52 L86.86,64.36 L86.97,65.20 L87.07,66.04 L87.17,66.88 L87.28,67.73 L87.39,68.57 L87.50,69.42 L87.61,70.26 L87.72,71.11 L87.83,71.96 L87.94,72.80 L88.05,73.65 L88.17,74.50 L88.29,75.35 L88.40,76.20 L88.52,77.05 L88.64,77.90 L88.76,78.75 L88.89,79.59 L89.01,80.44 L89.14,81.29 L89.26,82.14 L89.39,82.98 L89.52,83.83 L89.65,84.67 L89.78,85.52 L89.91,86.36 L90.04,87.20 L90.18,88.05 L90.32,88.89 L90.45,89.72 L90.59,90.56 L90.73,91.40 L90.87,92.23 L91.02,93.06 L91.16,93.89 L91.30,94.72 L91.45,95.55 L91.60,96.38 L91.75,97.20 L91.90,98.02 L92.05,98.84 L92.20,99.66 L92.36,100.48 L92.51,101.29 L92.67,102.10 L92.83,102.91 L92.99,103.72 L93.15,104.52 L93.31,105.32 L93.47,106.12 L93.64,106.92 L93.81,107.72 L93.97,108.51 L94.14,109.30 L94.31,110.08 L94.48,110.87 L94.66,111.65 L94.83,112.43 L95.01,113.20 L95.18,113.97 L95.36,114.74 L95.54,115.51 L95.72,116.27 L95.91,117.03 L96.09,117.79 L96.28,118.55 L96.46,119.30 L96.65,120.05 L96.84,120.79 L97.03,121.54 L97.23,122.27 L97.42,123.01 L97.62,123.74 L97.81,124.47 L98.01,125.20 L98.21,125.92 L98.41,126.64 L98.61,127.36 L98.82,128.07 L99.02,128.78 L99.23,129.49 L99.44,130.19 L99.65,130.89 L99.86,131.59 L100.07,132.28 L100.29,132.97 L100.50,133.65 L100.72,134.34 L100.94,135.02 L101.16,135.69 L101.38,136.36 L101.60,137.03 L101.83,137.70 L102.06,138.36 L102.28,139.02 L102.51,139.67 L102.74,140.33 L102.97,140.97 L103.21,141.62 L103.44,142.26 L103.68,142.90 L103.92,143.53 L104.16,144.16 L104.40,144.79 L104.64,145.42 L104.89,146.04 L105.13,146.65 L105.38,147.27 L105.63,147.88 L105.88,148.48 L106.13,149.09 L106.39,149.69 L106.64,150.28 L106.90,150.88 L107.16,151.47 L107.42,152.05 L107.68,152.64 L107.94,153.22 L108.21,153.79 L108.47,154.37 L108.74,154.93 L109.01,155.50 L109.28,156.06 L109.55,156.62 L109.83,157.18 L110.10,157.73 L110.38,158.28 L110.66,158.83 L110.94,159.37 L111.22,159.91 L111.51,160.45 L111.79,160.98 L112.08,161.51 L112.37,162.04 L112.66,162.56 L112.95,163.08 L113.24,163.60 L113.54,164.11 L113.83,164.62 L114.13,165.13 L114.43,165.63 L114.73,166.13 L115.04,166.63 L115.34,167.12 L115.65,167.62 L115.96,168.10 L116.27,168.59 L116.58,169.07 L116.89,169.55 L117.21,170.03 L117.52,170.50 L117.84,170.97 L118.16,171.44 L118.49,171.90 L118.81,172.36 L119.13,172.82 L119.46,173.28 L119.79,173.73 L120.12,174.18 L120.45,174.62 L120.78,175.07 L121.12,175.51 L121.46,175.95 L121.80,176.38 L122.14,176.81 L122.48,177.24 L122.82,177.67 L123.17,178.09 L123.52,178.51 L123.86,178.93 L124.22,179.35 L124.57,179.76 L124.92,180.17 L125.28,180.58 L125.64,180.98 L126.00,181.38 L126.36,181.78 L126.72,182.18 L127.08,182.57 L127.45,182.96 L127.82,183.35 L128.19,183.74 L128.56,184.12 L128.94,184.50 L129.31,184.88 L129.69,185.25 L130.07,185.63 L130.45,186.00 L130.83,186.36 L131.21,186.73 L131.60,187.09 L131.99,187.45 L132.38,187.81 L132.77,188.17 L133.16,188.52 L133.56,188.87 L133.95,189.22 L134.35,189.56 L134.75,189.91 L135.16,190.25 L135.56,190.59 L135.97,190.92 L136.37,191.26 L136.78,191.59 L137.19,191.92 L137.61,192.25 L138.02,192.57 L138.44,192.90 L138.86,193.22 L139.28,193.53 L139.70,193.85 L140.13,194.16 L140.55,194.48 L140.98,194.78 L141.41,195.09 L141.84,195.40 L142.27,195.70 L142.71,196.00 L143.15,196.30 L143.59,196.60 L144.03,196.89 L144.47,197.18 L144.91,197.47 L145.36,197.76 L145.81,198.05 L146.26,198.33 L146.71,198.62 L147.17,198.90 L147.62,199.17 L148.08,199.45 L148.54,199.72 L149.00,200.00 L149.47,200.27 L149.93,200.54 L150.40,200.80 L150.87,201.07 L151.34,201.33 L151.81,201.59 L152.29,201.85 L152.77,202.11 L153.24,202.36 L153.72,202.62 L154.21,202.87 L154.69,203.12 L155.18,203.37 L155.67,203.61 L156.16,203.86 L156.65,204.10 L157.15,204.34 L157.64,204.58 L158.14,204.82 L158.64,205.05 L159.14,205.29 L159.65,205.52 L160.15,205.75 L160.66,205.98 L161.17,206.20 L161.68,206.43 L162.20,206.65 L162.71,206.88 L163.23,207.10 L163.75,207.32 L164.27,207.53 L164.80,207.75 L165.32,207.96 L165.85,208.18 L166.38,208.39 L166.91,208.60 L167.45,208.80 L167.98,209.01 L168.52,209.21 L169.06,209.42 L169.60,209.62 L170.14,209.82 L170.69,210.02 L171.24,210.22 L171.79,210.41 L172.34,210.61 L172.89,210.80 L173.45,210.99 L174.01,211.18 L174.57,211.37 L175.13,211.56 L175.69,211.74 L176.26,211.93 L176.83,212.11 L177.40,212.29 L177.97,212.47 L178.54,212.65 L179.12,212.83 L179.70,213.00 L180.28,213.18 L180.86,213.35 L181.45,213.52 L182.03,213.69 L182.62,213.86 L183.21,214.03 L183.80,214.20 L184.40,214.36 L184.99,214.53 L185.59,214.69 L186.19,214.85 L186.80,215.01 L187.40,215.17 L188.01,215.33 L188.62,215.49 L189.23,215.64 L189.84,215.80 L190.46,215.95 L191.08,216.10 L191.70,216.25 L192.32,216.40 L192.94,216.55 L193.57,216.70 L194.20,216.84 L194.83,216.99 L195.46,217.13 L196.09,217.27 L196.73,217.42 L197.37,217.56 L198.01,217.70 L198.65,217.83 L199.30,217.97 L199.94,218.11 L200.59,218.24 L201.25,218.38 L201.90,218.51 L202.55,218.64 L203.21,218.77 L203.87,218.90 L204.53,219.03 L205.20,219.16 L205.87,219.28 L206.53,219.41 L207.20,219.53 L207.88,219.66 L208.55,219.78 L209.23,219.90 L209.91,220.02 L210.59,220.14 L211.27,220.26 L211.96,220.38 L212.65,220.49 L213.34,220.61 L214.03,220.72 L214.72,220.84 L215.42,220.95 L216.12,221.06 L216.82,221.17 L217.52,221.28 L218.23,221.39 L218.94,221.50 L219.65,221.61 L220.36,221.72 L221.07,221.82 L221.79,221.93 L222.51,222.03 L223.23,222.13 L223.95,222.24 L224.68,222.34 L225.40,222.44 L226.13,222.54 L226.87,222.64 L227.60,222.73 L228.34,222.83 L229.07,222.93 L229.82,223.02 L230.56,223.12 L231.30,223.21 L232.05,223.30 L232.80,223.40 L233.55,223.49 L234.31,223.58 L235.06,223.67 L235.82,223.76 L236.58,223.85 L237.35,223.93 L238.11,224.02 L238.88,224.11 L239.65,224.19 L240.42,224.28 L241.19,224.36 L241.97,224.45 L242.75,224.53 L243.53,224.61 L244.31,224.69 L245.10,224.77 L245.89,224.85 L246.68,224.93 L247.47,225.01 L248.27,225.09 L249.06,225.16 L249.86,225.24 L250.66,225.31 L251.47,225.39 L252.27,225.46 L253.08,225.54 L253.89,225.61 L254.71,225.68 L255.52,225.75 L256.34,225.83 L257.16,225.90 L257.98,225.97 L258.81,226.04 L259.63,226.10 L260.46,226.17 L261.29,226.24 L262.13,226.31 L262.96,226.37 L263.80,226.44 L264.64,226.50 L265.48,226.57 L266.33,226.63 L267.18,226.69 L268.03,226.76 L268.88,226.82 L269.73,226.88 L270.59,226.94 L271.45,227.00 L272.31,227.06 L273.18,227.12 L274.04,227.18 L274.91,227.24 L275.78,227.30 L276.66,227.35 L277.53,227.41 L278.41,227.47 L279.29,227.52 L280.17,227.58 L281.06,227.63 L281.95,227.68 L282.84,227.74 L283.73,227.79 L284.62,227.84 L285.52,227.90 L286.42,227.95 L287.32,228.00 L288.23,228.05 L289.13,228.10 L290.04,228.15 L290.95,228.20 L291.87,228.25 L292.78,228.29 L293.70,228.34 L294.62,228.39 L295.54,228.44 L296.47,228.48 L297.40,228.53 L298.33,228.57 L299.26,228.62 L300.20,228.66 L301.13,228.71 L302.07,228.75 L303.02,228.80 L303.96,228.84 L304.91,228.88 L305.86,228.92 L306.81,228.97 L307.76,229.01 L308.72,229.05 L309.68,229.09 L310.64,229.13 L311.61,229.17 L312.57,229.21 L313.54,229.25 L314.51,229.28 L315.49,229.32 L316.46,229.36 L317.44,229.40 L318.42,229.44 L319.41,229.47 L320.39,229.51 L321.38,229.54 L322.37,229.58 L323.37,229.61 L324.36,229.65 L325.36,229.68 L326.36,229.72 L327.37,229.75 L328.37,229.79 L329.38,229.82 L330.39,229.85 L331.40,229.88 L332.42,229.92 L333.44,229.95 L334.46,229.98 L335.48,230.01 L336.51,230.04 L337.53,230.07 L338.57,230.10 L339.60,230.13 L340.63,230.16 L341.67,230.19 L342.71,230.22 L343.76,230.25 L344.80,230.28 L345.85,230.31 L346.90,230.33 L347.95,230.36 L349.01,230.39 L350.07,230.42 L351.13,230.44 L352.19,230.47 L353.25,230.49 L354.32,230.52 L355.39,230.55 L356.47,230.57 L357.54,230.60 L358.62,230.62 L359.70,230.65 L360.78,230.67 L361.87,230.69 L362.96,230.72 L364.05,230.74 L365.14,230.76 L366.24,230.79 L367.34,230.81 L368.44,230.83 L369.54,230.86 L370.65,230.88 L371.75,230.90 L372.86,230.92 L373.98,230.94 L375.09,230.96 L376.21,230.98 L377.33,231.00 L378.46,231.02 L379.58,231.05 L380.71,231.06 L381.84,231.08 L382.98,231.10 L384.11,231.12 L385.25,231.14 L386.40,231.16 L387.54,231.18 L388.69,231.20 L389.84,231.22 L390.99,231.23 L392.14,231.25 L393.30,231.27 L394.46,231.29 L395.62,231.31 L396.79,231.32 L397.95,231.34 L399.12,231.36 L400.30,231.37 L401.47,231.39 L402.65,231.40 L403.83,231.42 L405.01,231.44 L406.20,231.45 L407.39,231.47 L408.58,231.48 L409.77,231.50 L410.97,231.51 L412.17,231.53 L413.37,231.54 L414.57,231.56 L415.78,231.57 L416.99,231.58 L418.20,231.60 L419.41,231.61 L420.63,231.63 L421.85,231.64 L423.07,231.65 L424.30,231.67 L425.53,231.68" stroke="#08cc08" stroke-dasharray="5.5 5.5" stroke-dashoffset="1.08"/>
<path d="M70.33,4.40 L70.33,4.40 L70.33,4.42 L70.33,4.45 L70.33,4.50 L70.33,4.57 L70.33,4.66 L70.33,4.79 L70.33,4.94 L70.33,5.12 L70.34,5.34 L70.34,5.59 L70.34,5.88 L70.34,6.21 L70.35,6.57 L70.35,6.98 L70.36,7.42 L70.36,7.91 L70.37,8.44 L70.37,9.01 L70.38,9.63 L70.38,10.29 L70.39,10.99 L70.40,11.74 L70.40,12.54 L70.41,13.38 L70.42,14.26 L70.43,15.19 L70.44,16.17 L70.45,17.18 L70.46,18.25 L70.47,19.35 L70.49,20.50 L70.50,21.69 L70.51,22.92 L70.53,24.20 L70.54,25.51 L70.56,26.86 L70.57,28.25 L70.59,29.67 L70.60,31.13 L70.62,32.62 L70.64,34.15 L70.66,35.70 L70.68,37.29 L70.70,38.91 L70.72,40.55 L70.74,42.22 L70.76,43.91 L70.79,45.63 L70.81,47.36 L70.84,49.12 L70.86,50.89 L70.89,52.68 L70.91,54.49 L70.94,56.31 L70.97,58.15 L71.00,59.99 L71.03,61.84 L71.06,63.70 L71.09,65.57 L71.12,67.45 L71.16,69.32 L71.19,71.20 L71.23,73.09 L71.26,74.97 L71.30,76.85 L71.33,78.73 L71.37,80.61 L71.41,82.48 L71.45,84.34 L71.49,86.21 L71.53,88.06 L71.57,89.90 L71.62,91.74 L71.66,93.57 L71.71,95.38 L71.75,97.19 L71.80,98.98 L71.85,100.76 L71.90,102.53 L71.95,104.29 L72.00,106.02 L72.05,107.75 L72.10,109.46 L72.15,111.15 L72.21,112.83 L72.26,114.49 L72.32,116.14 L72.37,117.77 L72.43,119.38 L72.49,120.97 L72.55,122.54 L72.61,124.10 L72.67,125.64 L72.74,127.16 L72.80,128.66 L72.87,130.15 L72.93,131.61 L73.00,133.06 L73.07,134.49 L73.14,135.90 L73.21,137.29 L73.28,138.66 L73.35,140.02 L73.42,141.35 L73.50,142.67 L73.57,143.97 L73.65,145.25 L73.73,146.51 L73.80,147.76 L73.88,148.98 L73.96,150.19 L74.05,151.38 L74.13,152.56 L74.21,153.72 L74.30,154.85 L74.38,155.98 L74.47,157.08 L74.56,158.17 L74.65,159.24 L74.74,160.30 L74.83,161.34 L74.92,162.37 L75.02,163.37 L75.11,164.37 L75.21,165.34 L75.31,166.31 L75.41,167.25 L75.51,168.19 L75.61,169.11 L75.71,170.01 L75.81,170.90 L75.92,171.77 L76.02,172.64 L76.13,173.48 L76.24,174.32 L76.35,175.14 L76.46,175.95 L76.57,176.75 L76.68,177.53 L76.80,178.30 L76.91,179.06 L77.03,179.81 L77.15,180.54 L77.26,181.27 L77.38,181.98 L77.51,182.68 L77.63,183.37 L77.75,184.05 L77.88,184.72 L78.00,185.38 L78.13,186.02 L78.26,186.66 L78.39,187.29 L78.52,187.91 L78.66,188.51 L78.79,189.11 L78.92,189.70 L79.06,190.28 L79.20,190.85 L79.34,191.41 L79.48,191.97 L79.62,192.51 L79.76,193.05 L79.91,193.58 L80.05,194.09 L80.20,194.61 L80.35,195.11 L80.50,195.61 L80.65,196.09 L80.80,196.57 L80.96,197.05 L81.11,197.51 L81.27,197.97 L81.43,198.43 L81.59,198.87 L81.75,199.31 L81.91,199.74 L82.07,200.17 L82.24,200.59 L82.40,201.00 L82.57,201.40 L82.74,201.80 L82.91,202.20 L83.08,202.59 L83.25,202.97 L83.43,203.35 L83.61,203.72 L83.78,204.08 L83.96,204.45 L84.14,204.80 L84.32,205.15 L84.51,205.50 L84.69,205.84 L84.88,206.17 L85.06,206.50 L85.25,206.83 L85.44,207.15 L85.63,207.46 L85.83,207.77 L86.02,208.08 L86.22,208.38 L86.41,208.68 L86.61,208.98 L86.81,209.27 L87.01,209.55 L87.22,209.83 L87.42,210.11 L87.63,210.38 L87.84,210.65 L88.05,210.92 L88.26,211.18 L88.47,211.44 L88.68,211.70 L88.90,211.95 L89.11,212.20 L89.33,212.44 L89.55,212.68 L89.77,212.92 L90.00,213.15 L90.22,213.39 L90.45,213.61 L90.67,213.84 L90.90,214.06 L91.13,214.28 L91.37,214.50 L91.60,214.71 L91.83,214.92 L92.07,215.13 L92.31,215.33 L92.55,215.54 L92.79,215.74 L93.03,215.93 L93.28,216.13 L93.52,216.32 L93.77,216.51 L94.02,216.69 L94.27,216.88 L94.52,217.06 L94.78,217.24 L95.03,217.42 L95.29,217.59 L95.55,217.77 L95.81,217.94 L96.07,218.10 L96.33,218.27 L96.60,218.43 L96.86,218.60 L97.13,218.75 L97.40,218.91 L97.67,219.07 L97.95,219.22 L98.22,219.37 L98.50,219.52 L98.78,219.67 L99.06,219.82 L99.34,219.96 L99.62,220.10 L99.91,220.25 L100.19,220.38 L100.48,220.52 L100.77,220.66 L101.06,220.79 L101.35,220.92 L101.65,221.05 L101.95,221.18 L102.24,221.31 L102.54,221.44 L102.84,221.56 L103.15,221.68 L103.45,221.80 L103.76,221.92 L104.07,222.04 L104.38,222.16 L104.69,222.27 L105.00,222.39 L105.32,222.50 L105.63,222.61 L105.95,222.72 L106.27,222.83 L106.59,222.94 L106.92,223.05 L107.24,223.15 L107.57,223.25 L107.90,223.36 L108.23,223.46 L108.56,223.56 L108.89,223.66 L109.23,223.75 L109.57,223.85 L109.91,223.95 L110.25,224.04 L110.59,224.13 L110.93,224.23 L111.28,224.32 L111.63,224.41 L111.98,224.50 L112.33,224.59 L112.68,224.67 L113.04,224.76 L113.39,224.84 L113.75,224.93 L114.11,225.01 L114.48,225.09 L114.84,225.17 L115.20,225.25 L115.57,225.33 L115.94,225.41 L116.31,225.49 L116.69,225.57 L117.06,225.64 L117.44,225.72 L117.82,225.79 L118.20,225.86 L118.58,225.94 L118.96,226.01 L119.35,226.08 L119.73,226.15 L120.12,226.22 L120.52,226.29 L120.91,226.36 L121.30,226.42 L121.70,226.49 L122.10,226.55 L122.50,226.62 L122.90,226.68 L123.31,226.75 L123.71,226.81 L124.12,226.87 L124.53,226.93 L124.94,226.99 L125.35,227.05 L125.77,227.11 L126.19,227.17 L126.61,227.23 L127.03,227.29 L127.45,227.34 L127.87,227.40 L128.30,227.46 L128.73,227.51 L129.16,227.57 L129.59,227.62 L130.03,227.67 L130.46,227.73 L130.90,227.78 L131.34,227.83 L131.78,227.88 L132.22,227.93 L132.67,227.98 L133.12,228.03 L133.57,228.08 L134.02,228.13 L134.47,228.17 L134.93,228.22 L135.38,228.27 L135.84,228.32 L136.30,228.36 L136.77,228.41 L137.23,228.45 L137.70,228.50 L138.17,228.54 L138.64,228.58 L139.11,228.63 L139.59,228.67 L140.06,228.71 L140.54,228.75 L141.02,228.79 L141.51,228.83 L141.99,228.87 L142.48,228.91 L142.96,228.95 L143.46,228.99 L143.95,229.03 L144.44,229.07 L144.94,229.11 L145.44,229.15 L145.94,229.18 L146.44,229.22 L146.94,229.26 L147.45,229.29 L147.96,229.33 L148.47,229.36 L148.98,229.40 L149.50,229.43 L150.01,229.47 L150.53,229.50 L151.05,229.53 L151.57,229.57 L152.10,229.60 L152.62,229.63 L153.15,229.66 L153.68,229.70 L154.22,229.73 L154.75,229.76 L155.29,229.79 L155.83,229.82 L156.37,229.85 L156.91,229.88 L157.46,229.91 L158.00,229.94 L158.55,229.97 L159.10,229.99 L159.66,230.02 L160.21,230.05 L160.77,230.08 L161.33,230.11 L161.89,230.13 L162.45,230.16 L163.02,230.19 L163.59,230.21 L164.15,230.24 L164.73,230.27 L165.30,230.29 L165.88,230.32 L166.45,230.34 L167.03,230.37 L167.62,230.39 L168.20,230.41 L168.79,230.44 L169.38,230.46 L169.97,230.49 L170.56,230.51 L171.15,230.53 L171.75,230.55 L172.35,230.58 L172.95,230.60 L173.55,230.62 L174.16,230.64 L174.77,230.67 L175.38,230.69 L175.99,230.71 L176.60,230.73 L177.22,230.75 L177.84,230.77 L178.46,230.79 L179.08,230.81 L179.71,230.83 L180.33,230.85 L180.96,230.87 L181.59,230.89 L182.23,230.91 L182.86,230.93 L183.50,230.95 L184.14,230.96 L184.78,230.98 L185.42,231.00 L186.07,231.02 L186.72,231.04 L187.37,231.05 L188.02,231.07 L188.68,231.09 L189.33,231.11 L189.99,231.12 L190.65,231.14 L191.32,231.16 L191.98,231.17 L192.65,231.19 L193.32,231.21 L194.00,231.22 L194.67,231.24 L195.35,231.25 L196.03,231.27 L196.71,231.28 L197.39,231.30 L198.08,231.31 L198.76,231.33 L199.45,231.34 L200.15,231.36 L200.84,231.37 L201.54,231.39 L202.24,231.40 L202.94,231.41 L203.64,231.43 L204.35,231.44 L205.06,231.45 L205.77,231.47 L206.48,231.48 L207.19,231.49 L207.91,231.51 L208.63,231.52 L209.35,231.53 L210.07,231.54 L210.80,231.56 L211.53,231.57 L212.26,231.58 L212.99,231.59 L213.73,231.61 L214.46,231.62 L215.20,231.63 L215.95,231.64 L216.69,231.65 L217.44,231.66 L218.18,231.67 L218.94,231.69 L219.69,231.70 L220.44,231.71 L221.20,231.72 L221.96,231.73 L222.72,231.74 L223.49,231.75 L224.26,231.76 L225.03,231.77 L225.80,231.78 L226.57,231.79 L227.35,231.80 L228.13,231.81 L228.91,231.82 L229.69,231.83 L230.47,231.84 L231.26,231.85 L232.05,231.86 L232.84,231.87 L233.64,231.87 L234.44,231.88 L235.24,231.89 L236.04,231.90 L236.84,231.91 L237.65,231.92 L238.46,231.93 L239.27,231.94 L240.08,231.94 L240.90,231.95 L241.71,231.96 L242.54,231.97 L243.36,231.98 L244.18,231.98 L245.01,231.99 L245.84,232.00 L246.67,232.01 L247.51,232.01 L248.34,232.02 L249.18,232.03 L250.03,232.04 L250.87,232.04 L251.72,232.05 L252.56,232.06 L253.42,232.06 L254.27,232.07 L255.13,232.08 L255.98,232.09 L256.84,232.09 L257.71,232.10 L258.57,232.11 L259.44,232.11 L260.31,232.12 L261.18,232.12 L262.06,232.13 L262.94,232.14 L263.82,232.14 L264.70,232.15 L265.58,232.16 L266.47,232.16 L267.36,232.17 L268.25,232.17 L269.15,232.18 L270.04,232.18 L270.94,232.19 L271.84,232.20 L272.75,232.20 L273.65,232.21 L274.56,232.21 L275.47,232.22 L276.39,232.22 L277.30,232.23 L278.22,232.23 L279.14,232.24 L280.07,232.24 L280.99,232.25 L281.92,232.25 L282.85,232.26 L283.79,232.26 L284.72,232.27 L285.66,232.27 L286.60,232.28 L287.54,232.28 L288.49,232.29 L289.44,232.29 L290.39,232.29 L291.34,232.30 L292.30,232.30 L293.26,232.31 L294.22,232.31 L295.18,232.32 L296.14,232.32 L297.11,232.32 L298.08,232.33 L299.06,232.33 L300.03,232.34 L301.01,232.34 L301.99,232.34 L302.97,232.35 L303.96,232.35 L304.95,232.36 L305.94,232.36 L306.93,232.36 L307.92,232.37 L308.92,232.37 L309.92,232.37 L310.93,232.38 L311.93,232.38 L312.94,232.38 L313.95,232.39 L314.96,232.39 L315.98,232.39 L317.00,232.40 L318.02,232.40 L319.04,232.40 L320.06,232.41 L321.09,232.41 L322.12,232.41 L323.16,232.42 L324.19,232.42 L325.23,232.42 L326.27,232.43 L327.32,232.43 L328.36,232.43 L329.41,232.43 L330.46,232.44 L331.51,232.44 L332.57,232.44 L333.63,232.44 L334.69,232.45 L335.75,232.45 L336.82,232.45 L337.89,232.46 L338.96,232.46 L340.04,232.46 L341.11,232.46 L342.19,232.47 L343.27,232.47 L344.36,232.47 L345.44,232.47 L346.53,232.47 L347.63,232.48 L348.72,232.48 L349.82,232.48 L350.92,232.48 L352.02,232.49 L353.13,232.49 L354.23,232.49 L355.34,232.49 L356.46,232.49 L357.57,232.50 L358.69,232.50 L359.81,232.50 L360.93,232.50 L362.06,232.50 L363.19,232.51 L364.32,232.51 L365.45,232.51 L366.59,232.51 L367.73,232.51 L368.87,232.52 L370.02,232.52 L371.16,232.52 L372.31,232.52 L373.46,232.52 L374.62,232.52 L375.78,232.53 L376.94,232.53 L378.10,232.53 L379.26,232.53 L380.43,232.53 L381.60,232.53 L382.78,232.54 L383.95,232.54 L385.13,232.54 L386.31,232.54 L387.50,232.54 L388.68,232.54 L389.87,232.55 L391.06,232.55 L392.26,232.55 L393.46,232.55 L394.66,232.55 L395.86,232.55 L397.06,232.55 L398.27,232.56 L399.48,232.56 L400.69,232.56 L401.91,232.56 L403.13,232.56 L404.35,232.56 L405.57,232.56 L406.80,232.56 L408.03,232.57 L409.26,232.57 L410.50,232.57 L411.73,232.57 L412.97,232.57 L414.22,232.57 L415.46,232.57 L416.71,232.57 L417.96,232.57 L419.22,232.58 L420.47,232.58 L421.73,232.58 L422.99,232.58 L424.26,232.58 L425.53,232.58" stroke="#8808f4" stroke-dasharray="7.5 1.9 1.6 1.9 1.6 1.9" stroke-dashoffset="16.10"/>
</g>
<rect x="216.50" y="6.45" width="206.90" height="114.75" fill="#fff"/>
<g clip-path="url(#ci)" fill="none" stroke-width="1.50">
<path d="M242.50,60.31 L243.10,60.31 L243.71,60.31 L244.31,60.31 L244.91,60.31 L245.51,60.31 L246.12,60.31 L246.72,60.31 L247.32,60.32 L247.92,60.32 L248.53,60.32 L249.13,60.32 L249.73,60.32 L250.34,60.32 L250.94,60.32 L251.54,60.32 L252.14,60.32 L252.75,60.32 L253.35,60.32 L253.95,60.32 L254.55,60.32 L255.16,60.32 L255.76,60.32 L256.36,60.32 L256.97,60.32 L257.57,60.33 L258.17,60.33 L258.77,60.33 L259.38,60.33 L259.98,60.33 L260.58,60.33 L261.18,60.33 L261.79,60.33 L262.39,60.33 L262.99,60.33 L263.59,60.33 L264.20,60.33 L264.80,60.34 L265.40,60.34 L266.01,60.34 L266.61,60.34 L267.21,60.34 L267.81,60.34 L268.42,60.34 L269.02,60.34 L269.62,60.34 L270.22,60.35 L270.83,60.35 L271.43,60.35 L272.03,60.35 L272.64,60.35 L273.24,60.35 L273.84,60.35 L274.44,60.36 L275.05,60.36 L275.65,60.36 L276.25,60.36 L276.85,60.36 L277.46,60.36 L278.06,60.37 L278.66,60.37 L279.27,60.37 L279.87,60.37 L280.47,60.37 L281.07,60.38 L281.68,60.38 L282.28,60.38 L282.88,60.38 L283.48,60.39 L284.09,60.39 L284.69,60.39 L285.29,60.39 L285.90,60.40 L286.50,60.40 L287.10,60.40 L287.70,60.40 L288.31,60.41 L288.91,60.41 L289.51,60.41 L290.11,60.42 L290.72,60.42 L291.32,60.42 L291.92,60.43 L292.53,60.43 L293.13,60.44 L293.73,60.44 L294.33,60.44 L294.94,60.45 L295.54,60.45 L296.14,60.46 L296.74,60.46 L297.35,60.47 L297.95,60.47 L298.55,60.47 L299.15,60.48 L299.76,60.49 L300.36,60.49 L300.96,60.50 L301.57,60.50 L302.17,60.51 L302.77,60.51 L303.37,60.52 L303.98,60.53 L304.58,60.53 L305.18,60.54 L305.78,60.55 L306.39,60.55 L306.99,60.56 L307.59,60.57 L308.20,60.58 L308.80,60.58 L309.40,60.59 L310.00,60.60 L310.61,60.61 L311.21,60.62 L311.81,60.63 L312.41,60.64 L313.02,60.65 L313.62,60.66 L314.22,60.67 L314.83,60.68 L315.43,60.69 L316.03,60.70 L316.63,60.71 L317.24,60.72 L317.84,60.74 L318.44,60.75 L319.04,60.76 L319.65,60.78 L320.25,60.79 L320.85,60.80 L321.46,60.82 L322.06,60.83 L322.66,60.85 L323.26,60.86 L323.87,60.88 L324.47,60.90 L325.07,60.91 L325.67,60.93 L326.28,60.95 L326.88,60.97 L327.48,60.99 L328.09,61.01 L328.69,61.03 L329.29,61.05 L329.89,61.07 L330.50,61.10 L331.10,61.12 L331.70,61.14 L332.30,61.17 L332.91,61.19 L333.51,61.22 L334.11,61.24 L334.71,61.27 L335.32,61.30 L335.92,61.33 L336.52,61.36 L337.13,61.39 L337.73,61.42 L338.33,61.45 L338.93,61.49 L339.54,61.52 L340.14,61.56 L340.74,61.59 L341.34,61.63 L341.95,61.67 L342.55,61.71 L343.15,61.75 L343.76,61.79 L344.36,61.83 L344.96,61.88 L345.56,61.93 L346.17,61.97 L346.77,62.02 L347.37,62.07 L347.97,62.12 L348.58,62.17 L349.18,62.23 L349.78,62.29 L350.39,62.34 L350.99,62.40 L351.59,62.46 L352.19,62.53 L352.80,62.59 L353.40,62.66 L354.00,62.72 L354.60,62.80 L355.21,62.87 L355.81,62.94 L356.41,63.02 L357.02,63.10 L357.62,63.18 L358.22,63.26 L358.82,63.35 L359.43,63.44 L360.03,63.53 L360.63,63.62 L361.23,63.72 L361.84,63.82 L362.44,63.92 L363.04,64.02 L363.65,64.13 L364.25,64.24 L364.85,64.36 L365.45,64.47 L366.06,64.59 L366.66,64.72 L367.26,64.85 L367.86,64.98 L368.47,65.12 L369.07,65.25 L369.67,65.40 L370.27,65.55 L370.88,65.70 L371.48,65.85 L372.08,66.02 L372.69,66.18 L373.29,66.35 L373.89,66.53 L374.49,66.71 L375.10,66.89 L375.70,67.09 L376.30,67.28 L376.90,67.48 L377.51,67.69 L378.11,67.91 L378.71,68.13 L379.32,68.36 L379.92,68.59 L380.52,68.83 L381.12,69.08 L381.73,69.33 L382.33,69.59 L382.93,69.86 L383.53,70.14 L384.14,70.42 L384.74,70.72 L385.34,71.02 L385.95,71.33 L386.55,71.65 L387.15,71.98 L387.75,72.32 L388.36,72.67 L388.96,73.03 L389.56,73.40 L390.16,73.77 L390.77,74.17 L391.37,74.57 L391.97,74.98 L392.58,75.41 L393.18,75.85 L393.78,76.30 L394.38,76.76 L394.99,77.24 L395.59,77.73 L396.19,78.23 L396.79,78.75 L397.40,79.29 L398.00,79.84 L398.60,80.41 L399.21,80.99 L399.81,81.59 L400.41,82.21 L401.01,82.84 L401.62,83.50 L402.22,84.17 L402.82,84.86 L403.42,85.57 L404.03,86.30 L404.63,87.06 L405.23,87.83 L405.83,88.63 L406.44,89.45 L407.04,90.30 L407.64,91.17 L408.25,92.07 L408.85,92.99 L409.45,93.93 L410.05,94.91 L410.66,95.91 L411.26,96.95 L411.86,98.01 L412.46,99.10 L413.07,100.23 L413.67,101.38 L414.27,102.58 L414.88,103.80 L415.48,105.06 L416.08,106.36 L416.68,107.70 L417.29,109.07 L417.89,110.49" stroke="#000000"/>
<path d="M242.50,41.65 L243.10,41.74 L243.71,41.83 L244.31,41.92 L244.91,42.00 L245.51,42.09 L246.12,42.18 L246.72,42.27 L247.32,42.36 L247.92,42.44 L248.53,42.53 L249.13,42.62 L249.73,42.71 L250.34,42.80 L250.94,42.88 L251.54,42.97 L252.14,43.06 L252.75,43.15 L253.35,43.24 L253.95,43.32 L254.55,43.41 L255.16,43.50 L255.76,43.59 L256.36,43.68 L256.97,43.76 L257.57,43.85 L258.17,43.94 L258.77,44.03 L259.38,44.12 L259.98,44.21 L260.58,44.29 L261.18,44.38 L261.79,44.47 L262.39,44.56 L262.99,44.65 L263.59,44.74 L264.20,44.82 L264.80,44.91 L265.40,45.00 L266.01,45.09 L266.61,45.18 L267.21,45.27 L267.81,45.36 L268.42,45.44 L269.02,45.53 L269.62,45.62 L270.22,45.71 L270.83,45.80 L271.43,45.89 L272.03,45.98 L272.64,46.07 L273.24,46.16 L273.84,46.24 L274.44,46.33 L275.05,46.42 L275.65,46.51 L276.25,46.60 L276.85,46.69 L277.46,46.78 L278.06,46.87 L278.66,46.96 L279.27,47.05 L279.87,47.14 L280.47,47.23 L281.07,47.32 L281.68,47.41 L282.28,47.50 L282.88,47.59 L283.48,47.68 L284.09,47.77 L284.69,47.86 L285.29,47.95 L285.90,48.04 L286.50,48.13 L287.10,48.22 L287.70,48.31 L288.31,48.40 L288.91,48.49 L289.51,48.58 L290.11,48.67 L290.72,48.76 L291.32,48.85 L291.92,48.94 L292.53,49.04 L293.13,49.13 L293.73,49.22 L294.33,49.31 L294.94,49.40 L295.54,49.49 L296.14,49.58 L296.74,49.68 L297.35,49.77 L297.95,49.86 L298.55,49.95 L299.15,50.05 L299.76,50.14 L300.36,50.23 L300.96,50.33 L301.57,50.42 L302.17,50.51 L302.77,50.61 L303.37,50.70 L303.98,50.79 L304.58,50.89 L305.18,50.98 L305.78,51.08 L306.39,51.17 L306.99,51.27 L307.59,51.36 L308.20,51.46 L308.80,51.55 L309.40,51.65 L310.00,51.74 L310.61,51.84 L311.21,51.94 L311.81,52.03 L312.41,52.13 L313.02,52.23 L313.62,52.32 L314.22,52.42 L314.83,52.52 L315.43,52.62 L316.03,52.72 L316.63,52.82 L317.24,52.92 L317.84,53.02 L318.44,53.12 L319.04,53.22 L319.65,53.32 L320.25,53.42 L320.85,53.52 L321.46,53.62 L322.06,53.73 L322.66,53.83 L323.26,53.93 L323.87,54.04 L324.47,54.14 L325.07,54.24 L325.67,54.35 L326.28,54.46 L326.88,54.56 L327.48,54.67 L328.09,54.78 L328.69,54.88 L329.29,54.99 L329.89,55.10 L330.50,55.21 L331.10,55.32 L331.70,55.43 L332.30,55.55 L332.91,55.66 L333.51,55.77 L334.11,55.89 L334.71,56.00 L335.32,56.12 L335.92,56.23 L336.52,56.35 L337.13,56.47 L337.73,56.59 L338.33,56.71 L338.93,56.83 L339.54,56.95 L340.14,57.07 L340.74,57.20 L341.34,57.32 L341.95,57.45 L342.55,57.58 L343.15,57.71 L343.76,57.83 L344.36,57.97 L344.96,58.10 L345.56,58.23 L346.17,58.37 L346.77,58.50 L347.37,58.64 L347.97,58.78 L348.58,58.92 L349.18,59.06 L349.78,59.20 L350.39,59.35 L350.99,59.50 L351.59,59.64 L352.19,59.79 L352.80,59.95 L353.40,60.10 L354.00,60.26 L354.60,60.41 L355.21,60.57 L355.81,60.74 L356.41,60.90 L357.02,61.07 L357.62,61.23 L358.22,61.41 L358.82,61.58 L359.43,61.75 L360.03,61.93 L360.63,62.11 L361.23,62.30 L361.84,62.48 L362.44,62.67 L363.04,62.87 L363.65,63.06 L364.25,63.26 L364.85,63.46 L365.45,63.67 L366.06,63.88 L366.66,64.09 L367.26,64.30 L367.86,64.52 L368.47,64.75 L369.07,64.97 L369.67,65.20 L370.27,65.44 L370.88,65.68 L371.48,65.92 L372.08,66.17 L372.69,66.43 L373.29,66.68 L373.89,66.95 L374.49,67.22 L375.10,67.49 L375.70,67.77 L376.30,68.05 L376.90,68.34 L377.51,68.64 L378.11,68.94 L378.71,69.25 L379.32,69.56 L379.92,69.88 L380.52,70.21 L381.12,70.55 L381.73,70.89 L382.33,71.24 L382.93,71.59 L383.53,71.96 L384.14,72.33 L384.74,72.71 L385.34,73.10 L385.95,73.50 L386.55,73.91 L387.15,74.32 L387.75,74.75 L388.36,75.19 L388.96,75.63 L389.56,76.09 L390.16,76.56 L390.77,77.04 L391.37,77.52 L391.97,78.03 L392.58,78.54 L393.18,79.06 L393.78,79.60 L394.38,80.15 L394.99,80.72 L395.59,81.30 L396.19,81.89 L396.79,82.50 L397.40,83.12 L398.00,83.76 L398.60,84.41 L399.21,85.08 L399.81,85.77 L400.41,86.48 L401.01,87.20 L401.62,87.94 L402.22,88.70 L402.82,89.48 L403.42,90.28 L404.03,91.10 L404.63,91.94 L405.23,92.80 L405.83,93.69 L406.44,94.60 L407.04,95.53 L407.64,96.49 L408.25,97.47 L408.85,98.48 L409.45,99.52 L410.05,100.58 L410.66,101.67 L411.26,102.79 L411.86,103.94 L412.46,105.12 L413.07,106.33 L413.67,107.58 L414.27,108.86 L414.88,110.17 L415.48,111.52" stroke="#d40404" stroke-dasharray="14.5 4.6"/>
<path d="M242.50,25.02 L243.10,25.20 L243.71,25.37 L244.31,25.55 L244.91,25.72 L245.51,25.90 L246.12,26.07 L246.72,26.25 L247.32,26.43 L247.92,26.60 L248.53,26.78 L249.13,26.95 L249.73,27.13 L250.34,27.30 L250.94,27.48 L251.54,27.65 L252.14,27.83 L252.75,28.01 L253.35,28.18 L253.95,28.36 L254.55,28.53 L255.16,28.71 L255.76,28.88 L256.36,29.06 L256.97,29.24 L257.57,29.41 L258.17,29.59 L258.77,29.76 L259.38,29.94 L259.98,30.11 L260.58,30.29 L261.18,30.47 L261.79,30.64 L262.39,30.82 L262.99,30.99 L263.59,31.17 L264.20,31.35 L264.80,31.52 L265.40,31.70 L266.01,31.87 L266.61,32.05 L267.21,32.23 L267.81,32.40 L268.42,32.58 L269.02,32.75 L269.62,32.93 L270.22,33.11 L270.83,33.28 L271.43,33.46 L272.03,33.64 L272.64,33.81 L273.24,33.99 L273.84,34.17 L274.44,34.34 L275.05,34.52 L275.65,34.70 L276.25,34.87 L276.85,35.05 L277.46,35.23 L278.06,35.40 L278.66,35.58 L279.27,35.76 L279.87,35.93 L280.47,36.11 L281.07,36.29 L281.68,36.47 L282.28,36.64 L282.88,36.82 L283.48,37.00 L284.09,37.18 L284.69,37.35 L285.29,37.53 L285.90,37.71 L286.50,37.89 L287.10,38.06 L287.70,38.24 L288.31,38.42 L288.91,38.60 L289.51,38.78 L290.11,38.96 L290.72,39.13 L291.32,39.31 L291.92,39.49 L292.53,39.67 L293.13,39.85 L293.73,40.03 L294.33,40.21 L294.94,40.39 L295.54,40.56 L296.14,40.74 L296.74,40.92 L297.35,41.10 L297.95,41.28 L298.55,41.46 L299.15,41.64 L299.76,41.82 L300.36,42.00 L300.96,42.18 L301.57,42.37 L302.17,42.55 L302.77,42.73 L303.37,42.91 L303.98,43.09 L304.58,43.27 L305.18,43.45 L305.78,43.64 L306.39,43.82 L306.99,44.00 L307.59,44.18 L308.20,44.37 L308.80,44.55 L309.40,44.73 L310.00,44.92 L310.61,45.10 L311.21,45.28 L311.81,45.47 L312.41,45.65 L313.02,45.84 L313.62,46.02 L314.22,46.21 L314.83,46.39 L315.43,46.58 L316.03,46.77 L316.63,46.95 L317.24,47.14 L317.84,47.33 L318.44,47.51 L319.04,47.70 L319.65,47.89 L320.25,48.08 L320.85,48.27 L321.46,48.46 L322.06,48.65 L322.66,48.84 L323.26,49.03 L323.87,49.22 L324.47,49.41 L325.07,49.61 L325.67,49.80 L326.28,49.99 L326.88,50.19 L327.48,50.38 L328.09,50.57 L328.69,50.77 L329.29,50.97 L329.89,51.16 L330.50,51.36 L331.10,51.56 L331.70,51.76 L332.30,51.96 L332.91,52.16 L333.51,52.36 L334.11,52.56 L334.71,52.76 L335.32,52.97 L335.92,53.17 L336.52,53.37 L337.13,53.58 L337.73,53.79 L338.33,53.99 L338.93,54.20 L339.54,54.41 L340.14,54.62 L340.74,54.83 L341.34,55.05 L341.95,55.26 L342.55,55.48 L343.15,55.69 L343.76,55.91 L344.36,56.13 L344.96,56.35 L345.56,56.57 L346.17,56.79 L346.77,57.01 L347.37,57.24 L347.97,57.46 L348.58,57.69 L349.18,57.92 L349.78,58.15 L350.39,58.38 L350.99,58.62 L351.59,58.86 L352.19,59.09 L352.80,59.33 L353.40,59.57 L354.00,59.82 L354.60,60.06 L355.21,60.31 L355.81,60.56 L356.41,60.81 L357.02,61.06 L357.62,61.32 L358.22,61.58 L358.82,61.84 L359.43,62.10 L360.03,62.37 L360.63,62.64 L361.23,62.91 L361.84,63.18 L362.44,63.46 L363.04,63.74 L363.65,64.02 L364.25,64.31 L364.85,64.60 L365.45,64.89 L366.06,65.19 L366.66,65.49 L367.26,65.79 L367.86,66.10 L368.47,66.41 L369.07,66.72 L369.67,67.04 L370.27,67.36 L370.88,67.69 L371.48,68.02 L372.08,68.36 L372.69,68.70 L373.29,69.05 L373.89,69.40 L374.49,69.75 L375.10,70.11 L375.70,70.48 L376.30,70.85 L376.90,71.23 L377.51,71.61 L378.11,72.00 L378.71,72.40 L379.32,72.80 L379.92,73.21 L380.52,73.62 L381.12,74.05 L381.73,74.48 L382.33,74.91 L382.93,75.36 L383.53,75.81 L384.14,76.27 L384.74,76.74 L385.34,77.21 L385.95,77.70 L386.55,78.20 L387.15,78.70 L387.75,79.21 L388.36,79.74 L388.96,80.27 L389.56,80.81 L390.16,81.37 L390.77,81.94 L391.37,82.51 L391.97,83.10 L392.58,83.70 L393.18,84.32 L393.78,84.94 L394.38,85.58 L394.99,86.23 L395.59,86.90 L396.19,87.58 L396.79,88.27 L397.40,88.98 L398.00,89.71 L398.60,90.45 L399.21,91.21 L399.81,91.98 L400.41,92.78 L401.01,93.59 L401.62,94.42 L402.22,95.26 L402.82,96.13 L403.42,97.02 L404.03,97.93 L404.63,98.85 L405.23,99.81 L405.83,100.78 L406.44,101.78 L407.04,102.80 L407.64,103.84 L408.25,104.91 L408.85,106.01 L409.45,107.13 L410.05,108.28 L410.66,109.46 L411.26,110.67" stroke="#2a2eff" stroke-dasharray="8.6 2.86"/>
<path d="M242.50,12.64 L243.10,12.90 L243.71,13.16 L244.31,13.43 L244.91,13.69 L245.51,13.95 L246.12,14.21 L246.72,14.48 L247.32,14.74 L247.92,15.00 L248.53,15.27 L249.13,15.53 L249.73,15.79 L250.34,16.06 L250.94,16.32 L251.54,16.58 L252.14,16.84 L252.75,17.11 L253.35,17.37 L253.95,17.63 L254.55,17.90 L255.16,18.16 L255.76,18.42 L256.36,18.69 L256.97,18.95 L257.57,19.21 L258.17,19.48 L258.77,19.74 L259.38,20.00 L259.98,20.27 L260.58,20.53 L261.18,20.79 L261.79,21.06 L262.39,21.32 L262.99,21.58 L263.59,21.85 L264.20,22.11 L264.80,22.37 L265.40,22.64 L266.01,22.90 L266.61,23.17 L267.21,23.43 L267.81,23.69 L268.42,23.96 L269.02,24.22 L269.62,24.48 L270.22,24.75 L270.83,25.01 L271.43,25.28 L272.03,25.54 L272.64,25.80 L273.24,26.07 L273.84,26.33 L274.44,26.60 L275.05,26.86 L275.65,27.12 L276.25,27.39 L276.85,27.65 L277.46,27.92 L278.06,28.18 L278.66,28.45 L279.27,28.71 L279.87,28.98 L280.47,29.24 L281.07,29.50 L281.68,29.77 L282.28,30.03 L282.88,30.30 L283.48,30.56 L284.09,30.83 L284.69,31.09 L285.29,31.36 L285.90,31.62 L286.50,31.89 L287.10,32.16 L287.70,32.42 L288.31,32.69 L288.91,32.95 L289.51,33.22 L290.11,33.48 L290.72,33.75 L291.32,34.02 L291.92,34.28 L292.53,34.55 L293.13,34.81 L293.73,35.08 L294.33,35.35 L294.94,35.61 L295.54,35.88 L296.14,36.15 L296.74,36.42 L297.35,36.68 L297.95,36.95 L298.55,37.22 L299.15,37.49 L299.76,37.75 L300.36,38.02 L300.96,38.29 L301.57,38.56 L302.17,38.83 L302.77,39.09 L303.37,39.36 L303.98,39.63 L304.58,39.90 L305.18,40.17 L305.78,40.44 L306.39,40.71 L306.99,40.98 L307.59,41.25 L308.20,41.52 L308.80,41.79 L309.40,42.06 L310.00,42.33 L310.61,42.60 L311.21,42.88 L311.81,43.15 L312.41,43.42 L313.02,43.69 L313.62,43.96 L314.22,44.24 L314.83,44.51 L315.43,44.78 L316.03,45.06 L316.63,45.33 L317.24,45.61 L317.84,45.88 L318.44,46.16 L319.04,46.43 L319.65,46.71 L320.25,46.98 L320.85,47.26 L321.46,47.54 L322.06,47.82 L322.66,48.09 L323.26,48.37 L323.87,48.65 L324.47,48.93 L325.07,49.21 L325.67,49.49 L326.28,49.77 L326.88,50.05 L327.48,50.34 L328.09,50.62 L328.69,50.90 L329.29,51.18 L329.89,51.47 L330.50,51.75 L331.10,52.04 L331.70,52.33 L332.30,52.61 L332.91,52.90 L333.51,53.19 L334.11,53.48 L334.71,53.77 L335.32,54.06 L335.92,54.35 L336.52,54.64 L337.13,54.94 L337.73,55.23 L338.33,55.53 L338.93,55.82 L339.54,56.12 L340.14,56.42 L340.74,56.71 L341.34,57.01 L341.95,57.32 L342.55,57.62 L343.15,57.92 L343.76,58.23 L344.36,58.53 L344.96,58.84 L345.56,59.15 L346.17,59.46 L346.77,59.77 L347.37,60.08 L347.97,60.39 L348.58,60.71 L349.18,61.03 L349.78,61.35 L350.39,61.67 L350.99,61.99 L351.59,62.31 L352.19,62.64 L352.80,62.96 L353.40,63.29 L354.00,63.62 L354.60,63.96 L355.21,64.29 L355.81,64.63 L356.41,64.97 L357.02,65.31 L357.62,65.65 L358.22,66.00 L358.82,66.35 L359.43,66.70 L360.03,67.05 L360.63,67.41 L361.23,67.77 L361.84,68.13 L362.44,68.49 L363.04,68.86 L363.65,69.23 L364.25,69.60 L364.85,69.98 L365.45,70.36 L366.06,70.74 L366.66,71.13 L367.26,71.52 L367.86,71.92 L368.47,72.32 L369.07,72.72 L369.67,73.12 L370.27,73.53 L370.88,73.95 L371.48,74.37 L372.08,74.79 L372.69,75.22 L373.29,75.65 L373.89,76.09 L374.49,76.53 L375.10,76.98 L375.70,77.44 L376.30,77.90 L376.90,78.36 L377.51,78.83 L378.11,79.31 L378.71,79.79 L379.32,80.28 L379.92,80.78 L380.52,81.28 L381.12,81.79 L381.73,82.31 L382.33,82.83 L382.93,83.36 L383.53,83.90 L384.14,84.45 L384.74,85.01 L385.34,85.57 L385.95,86.15 L386.55,86.73 L387.15,87.32 L387.75,87.92 L388.36,88.53 L388.96,89.15 L389.56,89.78 L390.16,90.43 L390.77,91.08 L391.37,91.74 L391.97,92.42 L392.58,93.11 L393.18,93.81 L393.78,94.52 L394.38,95.25 L394.99,95.99 L395.59,96.74 L396.19,97.51 L396.79,98.29 L397.40,99.09 L398.00,99.90 L398.60,100.73 L399.21,101.58 L399.81,102.44 L400.41,103.32 L401.01,104.22 L401.62,105.14 L402.22,106.07 L402.82,107.03 L403.42,108.00 L404.03,109.00 L404.63,110.01 L405.23,111.05" stroke="#08cc08" stroke-dasharray="3.6 3.09"/>
<path d="M242.50,22.83 L243.10,23.18 L243.71,23.52 L244.31,23.86 L244.91,24.20 L245.51,24.54 L246.12,24.89 L246.72,25.23 L247.32,25.57 L247.92,25.91 L248.53,26.25 L249.13,26.59 L249.73,26.94 L250.34,27.28 L250.94,27.62 L251.54,27.96 L252.14,28.30 L252.75,28.65 L253.35,28.99 L253.95,29.33 L254.55,29.67 L255.16,30.01 L255.76,30.35 L256.36,30.70 L256.97,31.04 L257.57,31.38 L258.17,31.72 L258.77,32.06 L259.38,32.41 L259.98,32.75 L260.58,33.09 L261.18,33.43 L261.79,33.78 L262.39,34.12 L262.99,34.46 L263.59,34.80 L264.20,35.14 L264.80,35.49 L265.40,35.83 L266.01,36.17 L266.61,36.51 L267.21,36.86 L267.81,37.20 L268.42,37.54 L269.02,37.88 L269.62,38.23 L270.22,38.57 L270.83,38.91 L271.43,39.25 L272.03,39.60 L272.64,39.94 L273.24,40.28 L273.84,40.63 L274.44,40.97 L275.05,41.31 L275.65,41.65 L276.25,42.00 L276.85,42.34 L277.46,42.68 L278.06,43.03 L278.66,43.37 L279.27,43.71 L279.87,44.06 L280.47,44.40 L281.07,44.74 L281.68,45.09 L282.28,45.43 L282.88,45.77 L283.48,46.12 L284.09,46.46 L284.69,46.81 L285.29,47.15 L285.90,47.49 L286.50,47.84 L287.10,48.18 L287.70,48.53 L288.31,48.87 L288.91,49.22 L289.51,49.56 L290.11,49.90 L290.72,50.25 L291.32,50.59 L291.92,50.94 L292.53,51.28 L293.13,51.63 L293.73,51.97 L294.33,52.32 L294.94,52.67 L295.54,53.01 L296.14,53.36 L296.74,53.70 L297.35,54.05 L297.95,54.39 L298.55,54.74 L299.15,55.09 L299.76,55.43 L300.36,55.78 L300.96,56.13 L301.57,56.47 L302.17,56.82 L302.77,57.17 L303.37,57.52 L303.98,57.86 L304.58,58.21 L305.18,58.56 L305.78,58.91 L306.39,59.26 L306.99,59.61 L307.59,59.95 L308.20,60.30 L308.80,60.65 L309.40,61.00 L310.00,61.35 L310.61,61.70 L311.21,62.05 L311.81,62.40 L312.41,62.75 L313.02,63.11 L313.62,63.46 L314.22,63.81 L314.83,64.16 L315.43,64.51 L316.03,64.87 L316.63,65.22 L317.24,65.57 L317.84,65.93 L318.44,66.28 L319.04,66.63 L319.65,66.99 L320.25,67.34 L320.85,67.70 L321.46,68.05 L322.06,68.41 L322.66,68.77 L323.26,69.13 L323.87,69.48 L324.47,69.84 L325.07,70.20 L325.67,70.56 L326.28,70.92 L326.88,71.28 L327.48,71.64 L328.09,72.00 L328.69,72.36 L329.29,72.73 L329.89,73.09 L330.50,73.45 L331.10,73.82 L331.70,74.18 L332.30,74.55 L332.91,74.91 L333.51,75.28 L334.11,75.65 L334.71,76.02 L335.32,76.39 L335.92,76.76 L336.52,77.13 L337.13,77.50 L337.73,77.87 L338.33,78.25 L338.93,78.62 L339.54,79.00 L340.14,79.37 L340.74,79.75 L341.34,80.13 L341.95,80.51 L342.55,80.89 L343.15,81.27 L343.76,81.66 L344.36,82.04 L344.96,82.43 L345.56,82.82 L346.17,83.20 L346.77,83.59 L347.37,83.98 L347.97,84.38 L348.58,84.77 L349.18,85.17 L349.78,85.56 L350.39,85.96 L350.99,86.36 L351.59,86.77 L352.19,87.17 L352.80,87.58 L353.40,87.98 L354.00,88.39 L354.60,88.81 L355.21,89.22 L355.81,89.63 L356.41,90.05 L357.02,90.47 L357.62,90.90 L358.22,91.32 L358.82,91.75 L359.43,92.18 L360.03,92.61 L360.63,93.04 L361.23,93.48 L361.84,93.92 L362.44,94.37 L363.04,94.81 L363.65,95.26 L364.25,95.71 L364.85,96.17 L365.45,96.63 L366.06,97.09 L366.66,97.56 L367.26,98.03 L367.86,98.50 L368.47,98.98 L369.07,99.46 L369.67,99.94 L370.27,100.43 L370.88,100.92 L371.48,101.42 L372.08,101.92 L372.69,102.43 L373.29,102.94 L373.89,103.46 L374.49,103.98 L375.10,104.51 L375.70,105.04 L376.30,105.58 L376.90,106.12 L377.51,106.67 L378.11,107.23 L378.71,107.79 L379.32,108.36 L379.92,108.93 L380.52,109.52 L381.12,110.10 L381.73,110.70 L382.33,111.30" stroke="#8808f4" stroke-dasharray="6.2 1.75 1.8 1.75"/>
</g>
<g fill="none" stroke="#000">
<path d="M242.50,8.15 V105.80" stroke-width="0.95"/>
<path d="M242.50,8.45 H421.70" stroke-width="0.55"/>
<path d="M421.70,8.45 V105.80" stroke-width="1.1" stroke="#7a7a7a"/>
<path d="M242.50,105.30 H421.70" stroke-width="1.0"/>
<path d="M291.05,105.20 v-2.6 M339.60,105.20 v-2.6 M388.15,105.20 v-2.6 M242.50,88.50 h2.4 M242.50,60.30 h2.4 M242.50,32.10 h2.4" stroke-width="1" stroke="#555"/>
<path d="M257.12,105.20 v-1.4 M265.66,105.20 v-1.4 M271.73,105.20 v-1.4 M276.43,105.20 v-1.4 M280.28,105.20 v-1.4 M283.53,105.20 v-1.4 M286.35,105.20 v-1.4 M288.83,105.20 v-1.4 M305.67,105.20 v-1.4 M314.21,105.20 v-1.4 M320.28,105.20 v-1.4 M324.98,105.20 v-1.4 M328.83,105.20 v-1.4 M332.08,105.20 v-1.4 M334.90,105.20 v-1.4 M337.38,105.20 v-1.4 M354.22,105.20 v-1.4 M362.76,105.20 v-1.4 M368.83,105.20 v-1.4 M373.53,105.20 v-1.4 M377.38,105.20 v-1.4 M380.63,105.20 v-1.4 M383.45,105.20 v-1.4 M385.93,105.20 v-1.4 M402.77,105.20 v-1.4 M411.31,105.20 v-1.4 M417.38,105.20 v-1.4 M242.50,103.25 h1.3 M242.50,99.72 h1.3 M242.50,96.99 h1.3 M242.50,94.76 h1.3 M242.50,92.87 h1.3 M242.50,91.23 h1.3 M242.50,89.79 h1.3 M242.50,80.01 h1.3 M242.50,75.05 h1.3 M242.50,71.52 h1.3 M242.50,68.79 h1.3 M242.50,66.56 h1.3 M242.50,64.67 h1.3 M242.50,63.03 h1.3 M242.50,61.59 h1.3 M242.50,51.81 h1.3 M242.50,46.85 h1.3 M242.50,43.32 h1.3 M242.50,40.59 h1.3 M242.50,38.36 h1.3 M242.50,36.47 h1.3 M242.50,34.83 h1.3 M242.50,33.39 h1.3 M242.50,23.61 h1.3 M242.50,18.65 h1.3 M242.50,15.12 h1.3 M242.50,12.39 h1.3 M242.50,10.16 h1.3" stroke-width="0.6" stroke="#999"/>
</g>
<g fill="none" stroke="#000">
<path d="M67.70,3.80 V242.70" stroke-width="1.3"/>
<path d="M67.05,4.40 H426.17" stroke-width="1.2"/>
<path d="M425.55,3.80 V242.70" stroke-width="1.25"/>
<path d="M67.05,241.80 H426.17" stroke-width="1.8"/>
</g>
<path d="M68.25,241.80 v-5.4 M183.50,241.80 v-5.4 M298.75,241.80 v-5.4 M414.00,241.80 v-5.4 M67.70,232.65 h5.7 M67.70,196.11 h5.7 M67.70,159.57 h5.7 M67.70,123.03 h5.7 M67.70,86.49 h5.7 M67.70,49.95 h5.7 M67.70,13.41 h5.7" stroke="#000" stroke-width="1.0" fill="none"/>
<path d="M91.30,241.80 v-3.3 M114.35,241.80 v-3.3 M137.40,241.80 v-3.3 M160.45,241.80 v-3.3 M206.55,241.80 v-3.3 M229.60,241.80 v-3.3 M252.65,241.80 v-3.3 M275.70,241.80 v-3.3 M321.80,241.80 v-3.3 M344.85,241.80 v-3.3 M367.90,241.80 v-3.3 M390.95,241.80 v-3.3 M67.70,241.78 h3.4 M67.70,223.52 h3.4 M67.70,214.38 h3.4 M67.70,205.25 h3.4 M67.70,186.98 h3.4 M67.70,177.84 h3.4 M67.70,168.71 h3.4 M67.70,150.44 h3.4 M67.70,141.30 h3.4 M67.70,132.17 h3.4 M67.70,113.90 h3.4 M67.70,104.76 h3.4 M67.70,95.63 h3.4 M67.70,77.35 h3.4 M67.70,68.22 h3.4 M67.70,59.09 h3.4 M67.70,40.81 h3.4 M67.70,31.68 h3.4 M67.70,22.54 h3.4" stroke="#000" stroke-width="0.75" fill="none"/>
<path d="M299.5,138.00 H360.8" stroke="#000000" stroke-width="2.00" fill="none"/>
<path d="M299.5,151.70 H360.8" stroke="#d40404" stroke-width="2.00" fill="none" stroke-dasharray="20.8 6.6"/>
<path d="M299.5,165.30 H360.8" stroke="#2a2eff" stroke-width="2.00" fill="none" stroke-dasharray="12.3 4.2"/>
<path d="M299.5,179.10 H360.8" stroke="#08cc08" stroke-width="2.00" fill="none" stroke-dasharray="5.5 5.5"/>
<path d="M299.5,192.90 H360.8" stroke="#8808f4" stroke-width="2.00" fill="none" stroke-dasharray="7.6 1.95 1.6 1.95 1.6 1.9"/>
<g style="font-family:&quot;Liberation Serif&quot;,serif" fill="#000">
<text x="371.4" y="141.80" font-size="15.5">χ</text>
<text x="381.3" y="143.60" font-size="14.2">=</text>
<text x="392.3" y="142.60" font-size="14.1">0</text>
<text x="371.4" y="155.50" font-size="15.5">χ</text>
<text x="381.3" y="157.30" font-size="14.2">=</text>
<text x="392.3" y="156.30" font-size="14.1">0.50</text>
<text x="371.4" y="169.10" font-size="15.5">χ</text>
<text x="381.3" y="170.90" font-size="14.2">=</text>
<text x="392.3" y="169.90" font-size="14.1">1.00</text>
<text x="371.4" y="182.90" font-size="15.5">χ</text>
<text x="381.3" y="184.70" font-size="14.2">=</text>
<text x="392.3" y="183.70" font-size="14.1">1.50</text>
<text x="371.4" y="196.70" font-size="15.5">χ</text>
<text x="381.3" y="198.50" font-size="14.2">=</text>
<text x="392.3" y="197.50" font-size="14.1">1.95</text>
<text x="63.5" y="238.55" font-size="17" text-anchor="end">0</text>
<text x="63.5" y="165.47" font-size="17" text-anchor="end">0.4</text>
<text x="63.5" y="92.39" font-size="17" text-anchor="end">0.8</text>
<text x="63.5" y="19.31" font-size="17" text-anchor="end">1.2</text>
<text x="68.25" y="255.5" font-size="17" text-anchor="middle">0</text>
<text x="183.50" y="255.5" font-size="17" text-anchor="middle">1</text>
<text x="298.75" y="255.5" font-size="17" text-anchor="middle">2</text>
<text x="414.00" y="255.5" font-size="17" text-anchor="middle">3</text>
<text transform="translate(241.3,93.70) scale(0.92,1.0)" font-size="15.5" text-anchor="end">10<tspan font-size="9.5" dy="-6.1">-1</tspan></text>
<text transform="translate(241.3,65.50) scale(0.92,1.0)" font-size="15.5" text-anchor="end">10<tspan font-size="9.5" dy="-6.1">0</tspan></text>
<text transform="translate(241.3,37.30) scale(0.92,1.0)" font-size="15.5" text-anchor="end">10<tspan font-size="9.5" dy="-6.1">1</tspan></text>
<text transform="translate(232.20,119.9) scale(0.92,1.0)" font-size="15.5">10<tspan font-size="9.5" dy="-6.6">-3</tspan></text>
<text transform="translate(280.75,119.9) scale(0.92,1.0)" font-size="15.5">10<tspan font-size="9.5" dy="-6.6">-2</tspan></text>
<text transform="translate(329.30,119.9) scale(0.92,1.0)" font-size="15.5">10<tspan font-size="9.5" dy="-6.6">-1</tspan></text>
<text transform="translate(377.85,119.9) scale(0.92,1.0)" font-size="15.5">10<tspan font-size="9.5" dy="-6.6">0</tspan></text>
<text x="2" y="127.3" font-size="17" font-style="italic">c</text>
<text x="12" y="125.8" font-size="17">(</text>
<text x="19.3" y="127.3" font-size="17" font-style="italic">z</text>
<text x="29" y="125.8" font-size="17">)</text>
<path d="M3.30,116.90 C4.22,114.60 5.14,114.80 5.85,115.90 S7.48,117.20 8.40,114.90" fill="none" stroke="#000" stroke-width="0.80" stroke-linecap="round"/>
<path d="M20.60,116.90 C21.64,114.60 22.69,114.80 23.50,115.90 S25.36,117.20 26.40,114.90" fill="none" stroke="#000" stroke-width="0.80" stroke-linecap="round"/>
<text x="243.4" y="270.8" font-size="19" font-style="italic">z</text>
<path d="M245.00,258.20 C246.01,255.90 247.02,256.10 247.80,257.20 S249.59,258.50 250.60,256.20" fill="none" stroke="#000" stroke-width="0.80" stroke-linecap="round"/>
</g>
</svg>
</body></html>
